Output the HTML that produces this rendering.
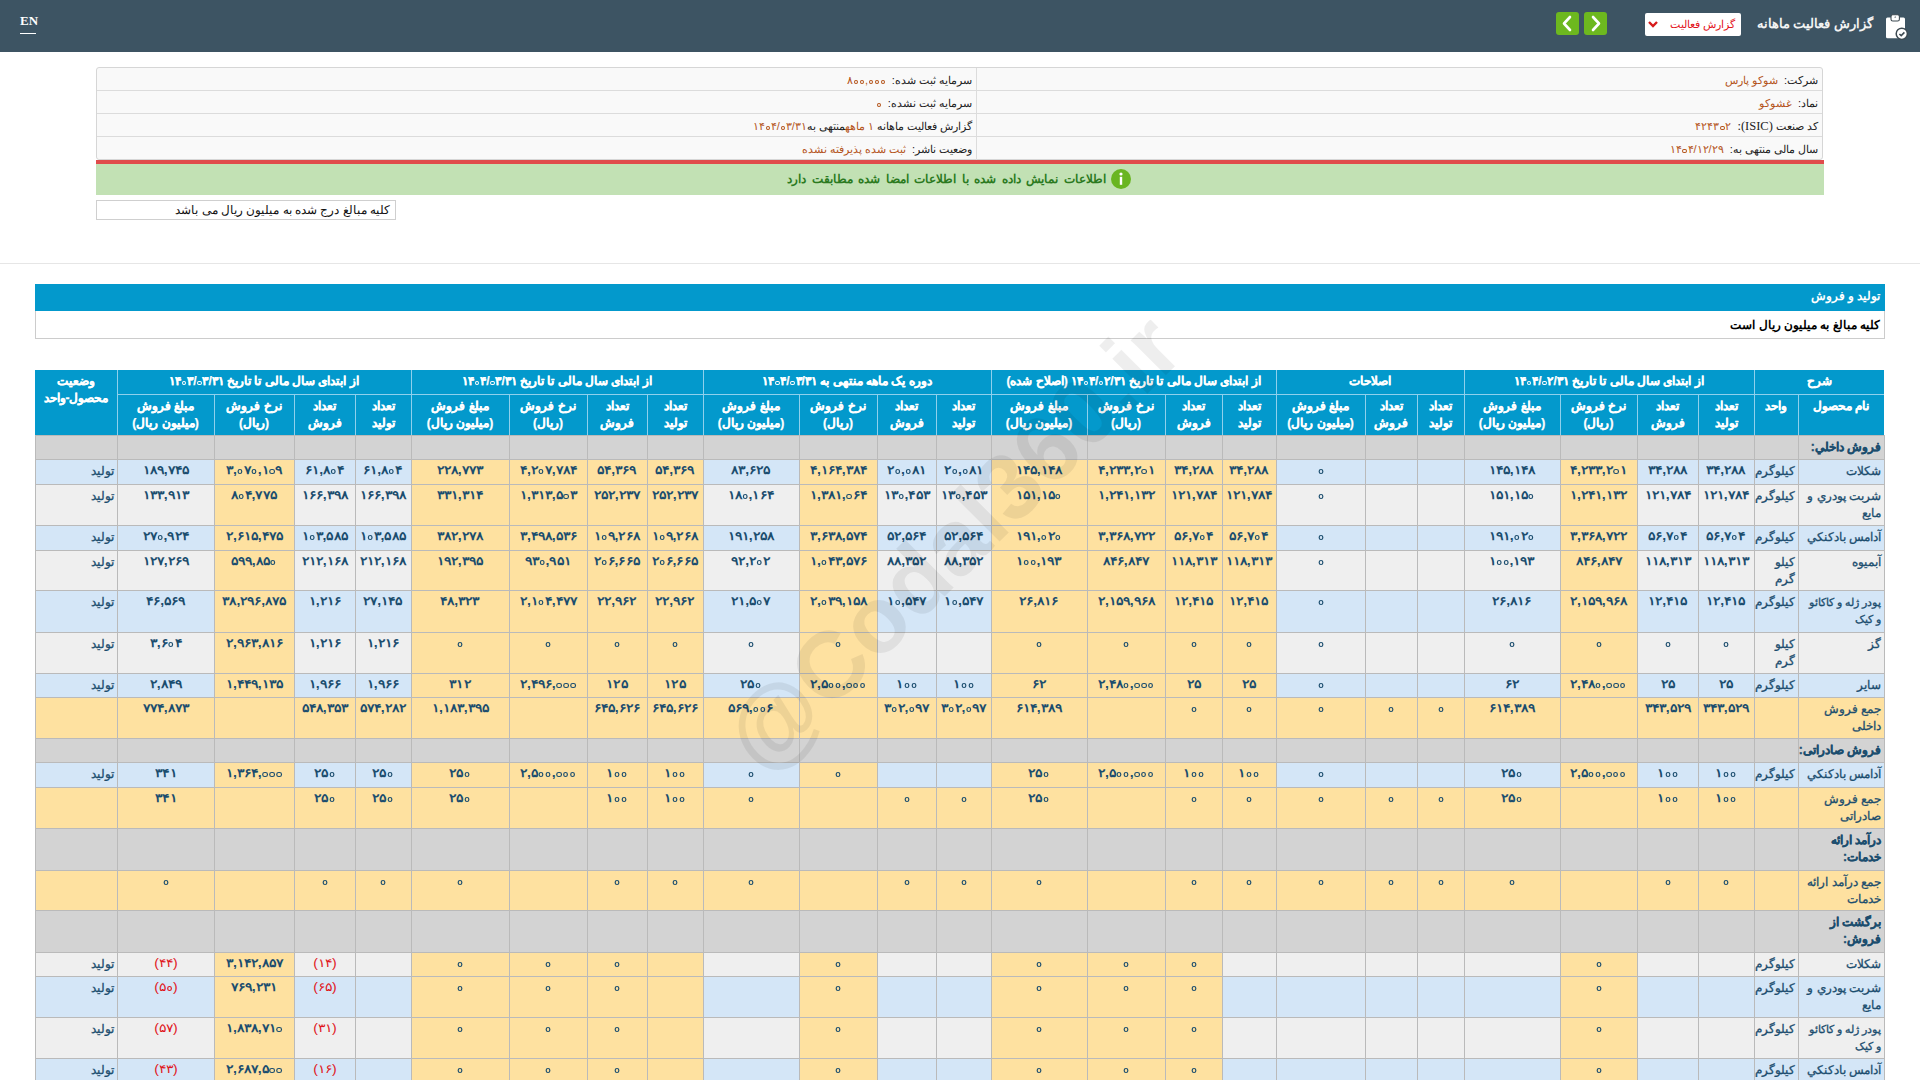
<!DOCTYPE html>
<html lang="fa" dir="rtl">
<head>
<meta charset="utf-8">
<title>گزارش فعالیت ماهانه</title>
<style>
html,body{margin:0;padding:0;}
body{width:1920px;height:1080px;overflow:hidden;position:relative;background:#fff;font-family:"Liberation Sans",sans-serif;}
.r{position:absolute;}
.t{position:absolute;font-size:12px;line-height:17px;padding-top:4px;text-align:center;color:#1b4d6e;box-sizing:border-box;padding-right:3px;padding-left:2px;white-space:normal;}
.t{white-space:nowrap;-webkit-text-stroke:0.3px currentColor;}
.n{-webkit-text-stroke:0;}
.sm{font-size:11px;}
.n{font-weight:bold;padding-top:2.5px;direction:ltr;unicode-bidi:bidi-override;}
.s{display:inline-block;transform:scaleX(1.17);}
.bo{unicode-bidi:bidi-override;direction:ltr;}
.z{display:inline-block;width:4.3px;height:4.5px;border:1.5px solid currentColor;border-radius:50%;box-sizing:border-box;margin:0 0.8px;vertical-align:0px;}
.h{position:absolute;font-size:12px;line-height:17px;text-align:center;color:#fff;font-weight:bold;-webkit-text-stroke:0.25px #fff;}
.topbar{position:absolute;left:0;top:0;width:1920px;height:52px;background:#3d5463;}
.info{position:absolute;left:96px;top:67px;width:1727px;height:93px;border:1px solid #d6d6d6;border-radius:3px;background:#f9f9f9;box-sizing:border-box;}
.il{position:absolute;height:1px;background:#dcdcdc;}
.it{position:absolute;font-size:11px;line-height:16px;color:#222;white-space:nowrap;}
.it span{color:#b4541a;}
.wm{position:absolute;left:623px;top:483px;width:660px;height:120px;line-height:120px;text-align:center;font-family:"Liberation Sans",sans-serif;font-weight:bold;font-size:94px;color:rgba(0,0,0,0.068);transform:rotate(-45deg);white-space:nowrap;}
</style>
</head>
<body>
<div class="topbar"></div>
<div style="position:absolute;left:20px;top:13px;font-family:'Liberation Serif',serif;font-size:13px;font-weight:bold;color:#fff;">EN</div>
<div class="r" style="left:20px;top:33px;width:16px;height:1px;background:#fff"></div>
<!-- header right -->
<div style="position:absolute;right:47px;top:13px;font-size:13px;line-height:22px;font-weight:bold;color:#f3f3f3;white-space:nowrap;">گزارش فعالیت ماهانه</div>
<div class="r" style="left:1645px;top:13px;width:96px;height:23px;background:#fff;border-radius:2px;"></div>
<div style="position:absolute;right:185px;top:15px;font-size:11px;line-height:19px;color:#e3131b;white-space:nowrap;">گزارش فعالیت</div>
<svg class="r" style="left:1647px;top:19px" width="12" height="10" viewBox="0 0 12 10"><path d="M2 3 L6 7 L10 3" stroke="#d71a1a" stroke-width="2.4" fill="none"/></svg>
<div class="r" style="left:1556px;top:12px;width:23px;height:23px;background:#6db81f;border-radius:3px;"></div>
<div class="r" style="left:1584px;top:12px;width:23px;height:23px;background:#6db81f;border-radius:3px;"></div>
<svg class="r" style="left:1556px;top:12px" width="23" height="23" viewBox="0 0 23 23"><path d="M14 5 L8 11.5 L14 18" stroke="#fff" stroke-width="2.6" fill="none" stroke-linecap="round" stroke-linejoin="round"/></svg>
<svg class="r" style="left:1584px;top:12px" width="23" height="23" viewBox="0 0 23 23"><path d="M9 5 L15 11.5 L9 18" stroke="#fff" stroke-width="2.6" fill="none" stroke-linecap="round" stroke-linejoin="round"/></svg>
<svg class="r" style="left:1884px;top:14px" width="26" height="26" viewBox="0 0 26 26">
<rect x="2" y="3.5" width="19" height="20.8" rx="1.5" fill="#fff"/>
<rect x="7" y="0.8" width="8.4" height="6.2" rx="1.8" fill="#fff" stroke="#3d4a52" stroke-width="1.1"/>
<path d="M10.2 3.6 L11.2 2.2 L12.2 3.6 Z" fill="#3d4a52"/>
<circle cx="17.8" cy="19.8" r="5.6" fill="#fff" stroke="#3d4a52" stroke-width="1.5"/>
<path d="M15.4 20 L17.2 21.6 L20.4 18.4" stroke="#3d4a52" stroke-width="1.6" fill="none"/>
</svg>

<!-- info table -->
<div class="info"></div>
<div class="il" style="left:97px;top:90px;width:1725px"></div>
<div class="il" style="left:97px;top:113px;width:1725px"></div>
<div class="il" style="left:97px;top:136px;width:1725px"></div>
<div class="r" style="left:976px;top:68px;width:1px;height:92px;background:#dcdcdc"></div>
<div class="it" style="right:102px;top:72px">شرکت:&nbsp; <span>شوکو پارس</span></div>
<div class="it" style="right:102px;top:95px">نماد:&nbsp; <span>غشوکو</span></div>
<div class="it" style="right:102px;top:118px">کد صنعت <i style="font-family:'Liberation Serif',serif;font-style:normal;font-size:12.5px">(ISIC):</i>&nbsp; <span><span class="bo">۴۲۴۳<i class="z"></i>۲</span></span></div>
<div class="it" style="right:102px;top:141px">سال مالی منتهی به:&nbsp; <span><span class="bo">۱۴<i class="z"></i>۴/۱۲/۲۹</span></span></div>
<div class="it" style="right:948px;top:72px">سرمایه ثبت شده:&nbsp; <span><span class="bo">۸<i class="z"></i><i class="z"></i>,<i class="z"></i><i class="z"></i><i class="z"></i></span></span></div>
<div class="it" style="right:948px;top:95px">سرمایه ثبت نشده:&nbsp; <span><span class="bo"><i class="z"></i></span></span></div>
<div class="it" style="right:948px;top:118px">گزارش فعالیت ماهانه <span>۱ ماهه</span>منتهی به<span><span class="bo">۱۴<i class="z"></i>۴/<i class="z"></i>۳/۳۱</span></span></div>
<div class="it" style="right:948px;top:141px">وضعیت ناشر:&nbsp; <span>ثبت شده پذیرفته نشده</span></div>
<div class="r" style="left:96px;top:160px;width:1728px;height:4px;background:#e04b4b"></div>
<div class="r" style="left:96px;top:164px;width:1728px;height:31px;background:#c2e1b4"></div>
<svg class="r" style="left:1110px;top:168px" width="22" height="22" viewBox="0 0 22 22"><circle cx="11" cy="11" r="10" fill="#69b521"/><circle cx="11" cy="6" r="1.6" fill="#fff"/><rect x="9.8" y="8.8" width="2.4" height="8" fill="#fff"/></svg>
<div style="position:absolute;right:814px;top:170px;font-size:12px;word-spacing:2.2px;line-height:18px;font-weight:bold;color:#2b7a1f;white-space:nowrap;">اطلاعات نمایش داده شده با اطلاعات امضا شده مطابقت دارد</div>
<div class="r" style="left:96px;top:200px;width:298px;height:18px;border:1px solid #cfcfcf;"></div>
<div style="position:absolute;right:1530px;top:202px;font-size:12px;line-height:16px;color:#111;white-space:nowrap;">کلیه مبالغ درج شده به میلیون ریال می باشد</div>
<div class="r" style="left:0;top:263px;width:1920px;height:1px;background:#e6e6e6"></div>

<!-- section -->
<div class="r" style="left:35px;top:284px;width:1850px;height:27px;background:#0399cc"></div>
<div style="position:absolute;right:40px;top:287px;font-size:11.6px;line-height:18px;font-weight:bold;color:#fff;white-space:nowrap;">تولید و فروش</div>
<div class="r" style="left:35px;top:311px;width:1848px;height:27px;border:1px solid #cccccc;border-top:none;"></div>
<div style="position:absolute;right:40px;top:316px;font-size:12px;line-height:18px;font-weight:bold;color:#000;white-space:nowrap;">کلیه مبالغ به میلیون ریال است</div>

<div class="r" style="left:35px;top:370px;width:1849px;height:65px;background:#0399cc;"></div>
<div class="r" style="left:35px;top:435px;width:1849px;height:24px;background:#d3d3d3;"></div>
<div class="t" style="left:1799px;top:435px;width:85px;text-align:right;font-weight:bold;">فروش داخلي:</div>
<div class="r" style="left:1798px;top:459px;width:86px;height:25px;background:#d4e6f7;"></div>
<div class="r" style="left:1754px;top:459px;width:44px;height:25px;background:#d4e6f7;"></div>
<div class="r" style="left:1698px;top:459px;width:56px;height:25px;background:#d4e6f7;"></div>
<div class="r" style="left:1637px;top:459px;width:61px;height:25px;background:#d4e6f7;"></div>
<div class="r" style="left:1560px;top:459px;width:77px;height:25px;background:#fee1a0;"></div>
<div class="r" style="left:1464px;top:459px;width:96px;height:25px;background:#d4e6f7;"></div>
<div class="r" style="left:1417px;top:459px;width:47px;height:25px;background:#d4e6f7;"></div>
<div class="r" style="left:1365px;top:459px;width:52px;height:25px;background:#d4e6f7;"></div>
<div class="r" style="left:1276px;top:459px;width:89px;height:25px;background:#d4e6f7;"></div>
<div class="r" style="left:1222px;top:459px;width:54px;height:25px;background:#fee1a0;"></div>
<div class="r" style="left:1165px;top:459px;width:57px;height:25px;background:#fee1a0;"></div>
<div class="r" style="left:1087px;top:459px;width:78px;height:25px;background:#fee1a0;"></div>
<div class="r" style="left:991px;top:459px;width:96px;height:25px;background:#fee1a0;"></div>
<div class="r" style="left:936px;top:459px;width:55px;height:25px;background:#d4e6f7;"></div>
<div class="r" style="left:877px;top:459px;width:59px;height:25px;background:#d4e6f7;"></div>
<div class="r" style="left:799px;top:459px;width:78px;height:25px;background:#fee1a0;"></div>
<div class="r" style="left:703px;top:459px;width:96px;height:25px;background:#d4e6f7;"></div>
<div class="r" style="left:647px;top:459px;width:56px;height:25px;background:#fee1a0;"></div>
<div class="r" style="left:587px;top:459px;width:60px;height:25px;background:#fee1a0;"></div>
<div class="r" style="left:509px;top:459px;width:78px;height:25px;background:#fee1a0;"></div>
<div class="r" style="left:411px;top:459px;width:98px;height:25px;background:#fee1a0;"></div>
<div class="r" style="left:355px;top:459px;width:56px;height:25px;background:#d4e6f7;"></div>
<div class="r" style="left:294px;top:459px;width:61px;height:25px;background:#d4e6f7;"></div>
<div class="r" style="left:214px;top:459px;width:80px;height:25px;background:#fee1a0;"></div>
<div class="r" style="left:117px;top:459px;width:97px;height:25px;background:#d4e6f7;"></div>
<div class="r" style="left:35px;top:459px;width:82px;height:25px;background:#d4e6f7;"></div>
<div class="t" style="left:1799px;top:459px;width:85px;text-align:right;">شکلات</div>
<div class="t" style="left:1755px;top:459px;width:43px;text-align:right;">کیلوگرم</div>
<div class="t n" style="left:1699px;top:459px;width:55px;"><span class="s">۳۴,۲۸۸</span></div>
<div class="t n" style="left:1638px;top:459px;width:60px;"><span class="s">۳۴,۲۸۸</span></div>
<div class="t n" style="left:1561px;top:459px;width:76px;"><span class="s">۴,۲۳۳,۲<i class="z"></i>۱</span></div>
<div class="t n" style="left:1465px;top:459px;width:95px;"><span class="s">۱۴۵,۱۴۸</span></div>
<div class="t n" style="left:1277px;top:459px;width:88px;"><span class="s"><i class="z"></i></span></div>
<div class="t n" style="left:1223px;top:459px;width:53px;"><span class="s">۳۴,۲۸۸</span></div>
<div class="t n" style="left:1166px;top:459px;width:56px;"><span class="s">۳۴,۲۸۸</span></div>
<div class="t n" style="left:1088px;top:459px;width:77px;"><span class="s">۴,۲۳۳,۲<i class="z"></i>۱</span></div>
<div class="t n" style="left:992px;top:459px;width:95px;"><span class="s">۱۴۵,۱۴۸</span></div>
<div class="t n" style="left:937px;top:459px;width:54px;"><span class="s">۲<i class="z"></i>,<i class="z"></i>۸۱</span></div>
<div class="t n" style="left:878px;top:459px;width:58px;"><span class="s">۲<i class="z"></i>,<i class="z"></i>۸۱</span></div>
<div class="t n" style="left:800px;top:459px;width:77px;"><span class="s">۴,۱۶۴,۳۸۴</span></div>
<div class="t n" style="left:704px;top:459px;width:95px;"><span class="s">۸۳,۶۲۵</span></div>
<div class="t n" style="left:648px;top:459px;width:55px;"><span class="s">۵۴,۳۶۹</span></div>
<div class="t n" style="left:588px;top:459px;width:59px;"><span class="s">۵۴,۳۶۹</span></div>
<div class="t n" style="left:510px;top:459px;width:77px;"><span class="s">۴,۲<i class="z"></i>۷,۷۸۴</span></div>
<div class="t n" style="left:412px;top:459px;width:97px;"><span class="s">۲۲۸,۷۷۳</span></div>
<div class="t n" style="left:356px;top:459px;width:55px;"><span class="s">۶۱,۸<i class="z"></i>۴</span></div>
<div class="t n" style="left:295px;top:459px;width:60px;"><span class="s">۶۱,۸<i class="z"></i>۴</span></div>
<div class="t n" style="left:215px;top:459px;width:79px;"><span class="s">۳,<i class="z"></i>۷<i class="z"></i>,۱<i class="z"></i>۹</span></div>
<div class="t n" style="left:118px;top:459px;width:96px;"><span class="s">۱۸۹,۷۴۵</span></div>
<div class="t" style="left:36px;top:459px;width:81px;text-align:right;">تولید</div>
<div class="r" style="left:1798px;top:484px;width:86px;height:41px;background:#efefef;"></div>
<div class="r" style="left:1754px;top:484px;width:44px;height:41px;background:#efefef;"></div>
<div class="r" style="left:1698px;top:484px;width:56px;height:41px;background:#efefef;"></div>
<div class="r" style="left:1637px;top:484px;width:61px;height:41px;background:#efefef;"></div>
<div class="r" style="left:1560px;top:484px;width:77px;height:41px;background:#fee1a0;"></div>
<div class="r" style="left:1464px;top:484px;width:96px;height:41px;background:#efefef;"></div>
<div class="r" style="left:1417px;top:484px;width:47px;height:41px;background:#efefef;"></div>
<div class="r" style="left:1365px;top:484px;width:52px;height:41px;background:#efefef;"></div>
<div class="r" style="left:1276px;top:484px;width:89px;height:41px;background:#efefef;"></div>
<div class="r" style="left:1222px;top:484px;width:54px;height:41px;background:#fee1a0;"></div>
<div class="r" style="left:1165px;top:484px;width:57px;height:41px;background:#fee1a0;"></div>
<div class="r" style="left:1087px;top:484px;width:78px;height:41px;background:#fee1a0;"></div>
<div class="r" style="left:991px;top:484px;width:96px;height:41px;background:#fee1a0;"></div>
<div class="r" style="left:936px;top:484px;width:55px;height:41px;background:#efefef;"></div>
<div class="r" style="left:877px;top:484px;width:59px;height:41px;background:#efefef;"></div>
<div class="r" style="left:799px;top:484px;width:78px;height:41px;background:#fee1a0;"></div>
<div class="r" style="left:703px;top:484px;width:96px;height:41px;background:#efefef;"></div>
<div class="r" style="left:647px;top:484px;width:56px;height:41px;background:#fee1a0;"></div>
<div class="r" style="left:587px;top:484px;width:60px;height:41px;background:#fee1a0;"></div>
<div class="r" style="left:509px;top:484px;width:78px;height:41px;background:#fee1a0;"></div>
<div class="r" style="left:411px;top:484px;width:98px;height:41px;background:#fee1a0;"></div>
<div class="r" style="left:355px;top:484px;width:56px;height:41px;background:#efefef;"></div>
<div class="r" style="left:294px;top:484px;width:61px;height:41px;background:#efefef;"></div>
<div class="r" style="left:214px;top:484px;width:80px;height:41px;background:#fee1a0;"></div>
<div class="r" style="left:117px;top:484px;width:97px;height:41px;background:#efefef;"></div>
<div class="r" style="left:35px;top:484px;width:82px;height:41px;background:#efefef;"></div>
<div class="t" style="left:1799px;top:484px;width:85px;text-align:right;">شربت پودري و<br>مايع</div>
<div class="t" style="left:1755px;top:484px;width:43px;text-align:right;">کیلوگرم</div>
<div class="t n" style="left:1699px;top:484px;width:55px;"><span class="s">۱۲۱,۷۸۴</span></div>
<div class="t n" style="left:1638px;top:484px;width:60px;"><span class="s">۱۲۱,۷۸۴</span></div>
<div class="t n" style="left:1561px;top:484px;width:76px;"><span class="s">۱,۲۴۱,۱۳۲</span></div>
<div class="t n" style="left:1465px;top:484px;width:95px;"><span class="s">۱۵۱,۱۵<i class="z"></i></span></div>
<div class="t n" style="left:1277px;top:484px;width:88px;"><span class="s"><i class="z"></i></span></div>
<div class="t n" style="left:1223px;top:484px;width:53px;"><span class="s">۱۲۱,۷۸۴</span></div>
<div class="t n" style="left:1166px;top:484px;width:56px;"><span class="s">۱۲۱,۷۸۴</span></div>
<div class="t n" style="left:1088px;top:484px;width:77px;"><span class="s">۱,۲۴۱,۱۳۲</span></div>
<div class="t n" style="left:992px;top:484px;width:95px;"><span class="s">۱۵۱,۱۵<i class="z"></i></span></div>
<div class="t n" style="left:937px;top:484px;width:54px;"><span class="s">۱۳<i class="z"></i>,۴۵۳</span></div>
<div class="t n" style="left:878px;top:484px;width:58px;"><span class="s">۱۳<i class="z"></i>,۴۵۳</span></div>
<div class="t n" style="left:800px;top:484px;width:77px;"><span class="s">۱,۳۸۱,<i class="z"></i>۶۴</span></div>
<div class="t n" style="left:704px;top:484px;width:95px;"><span class="s">۱۸<i class="z"></i>,۱۶۴</span></div>
<div class="t n" style="left:648px;top:484px;width:55px;"><span class="s">۲۵۲,۲۳۷</span></div>
<div class="t n" style="left:588px;top:484px;width:59px;"><span class="s">۲۵۲,۲۳۷</span></div>
<div class="t n" style="left:510px;top:484px;width:77px;"><span class="s">۱,۳۱۳,۵<i class="z"></i>۳</span></div>
<div class="t n" style="left:412px;top:484px;width:97px;"><span class="s">۳۳۱,۳۱۴</span></div>
<div class="t n" style="left:356px;top:484px;width:55px;"><span class="s">۱۶۶,۳۹۸</span></div>
<div class="t n" style="left:295px;top:484px;width:60px;"><span class="s">۱۶۶,۳۹۸</span></div>
<div class="t n" style="left:215px;top:484px;width:79px;"><span class="s">۸<i class="z"></i>۴,۷۷۵</span></div>
<div class="t n" style="left:118px;top:484px;width:96px;"><span class="s">۱۳۳,۹۱۳</span></div>
<div class="t" style="left:36px;top:484px;width:81px;text-align:right;">تولید</div>
<div class="r" style="left:1798px;top:525px;width:86px;height:25px;background:#d4e6f7;"></div>
<div class="r" style="left:1754px;top:525px;width:44px;height:25px;background:#d4e6f7;"></div>
<div class="r" style="left:1698px;top:525px;width:56px;height:25px;background:#d4e6f7;"></div>
<div class="r" style="left:1637px;top:525px;width:61px;height:25px;background:#d4e6f7;"></div>
<div class="r" style="left:1560px;top:525px;width:77px;height:25px;background:#fee1a0;"></div>
<div class="r" style="left:1464px;top:525px;width:96px;height:25px;background:#d4e6f7;"></div>
<div class="r" style="left:1417px;top:525px;width:47px;height:25px;background:#d4e6f7;"></div>
<div class="r" style="left:1365px;top:525px;width:52px;height:25px;background:#d4e6f7;"></div>
<div class="r" style="left:1276px;top:525px;width:89px;height:25px;background:#d4e6f7;"></div>
<div class="r" style="left:1222px;top:525px;width:54px;height:25px;background:#fee1a0;"></div>
<div class="r" style="left:1165px;top:525px;width:57px;height:25px;background:#fee1a0;"></div>
<div class="r" style="left:1087px;top:525px;width:78px;height:25px;background:#fee1a0;"></div>
<div class="r" style="left:991px;top:525px;width:96px;height:25px;background:#fee1a0;"></div>
<div class="r" style="left:936px;top:525px;width:55px;height:25px;background:#d4e6f7;"></div>
<div class="r" style="left:877px;top:525px;width:59px;height:25px;background:#d4e6f7;"></div>
<div class="r" style="left:799px;top:525px;width:78px;height:25px;background:#fee1a0;"></div>
<div class="r" style="left:703px;top:525px;width:96px;height:25px;background:#d4e6f7;"></div>
<div class="r" style="left:647px;top:525px;width:56px;height:25px;background:#fee1a0;"></div>
<div class="r" style="left:587px;top:525px;width:60px;height:25px;background:#fee1a0;"></div>
<div class="r" style="left:509px;top:525px;width:78px;height:25px;background:#fee1a0;"></div>
<div class="r" style="left:411px;top:525px;width:98px;height:25px;background:#fee1a0;"></div>
<div class="r" style="left:355px;top:525px;width:56px;height:25px;background:#d4e6f7;"></div>
<div class="r" style="left:294px;top:525px;width:61px;height:25px;background:#d4e6f7;"></div>
<div class="r" style="left:214px;top:525px;width:80px;height:25px;background:#fee1a0;"></div>
<div class="r" style="left:117px;top:525px;width:97px;height:25px;background:#d4e6f7;"></div>
<div class="r" style="left:35px;top:525px;width:82px;height:25px;background:#d4e6f7;"></div>
<div class="t" style="left:1799px;top:525px;width:85px;text-align:right;">آدامس بادکنکي</div>
<div class="t" style="left:1755px;top:525px;width:43px;text-align:right;">کیلوگرم</div>
<div class="t n" style="left:1699px;top:525px;width:55px;"><span class="s">۵۶,۷<i class="z"></i>۴</span></div>
<div class="t n" style="left:1638px;top:525px;width:60px;"><span class="s">۵۶,۷<i class="z"></i>۴</span></div>
<div class="t n" style="left:1561px;top:525px;width:76px;"><span class="s">۳,۳۶۸,۷۲۲</span></div>
<div class="t n" style="left:1465px;top:525px;width:95px;"><span class="s">۱۹۱,<i class="z"></i>۲<i class="z"></i></span></div>
<div class="t n" style="left:1277px;top:525px;width:88px;"><span class="s"><i class="z"></i></span></div>
<div class="t n" style="left:1223px;top:525px;width:53px;"><span class="s">۵۶,۷<i class="z"></i>۴</span></div>
<div class="t n" style="left:1166px;top:525px;width:56px;"><span class="s">۵۶,۷<i class="z"></i>۴</span></div>
<div class="t n" style="left:1088px;top:525px;width:77px;"><span class="s">۳,۳۶۸,۷۲۲</span></div>
<div class="t n" style="left:992px;top:525px;width:95px;"><span class="s">۱۹۱,<i class="z"></i>۲<i class="z"></i></span></div>
<div class="t n" style="left:937px;top:525px;width:54px;"><span class="s">۵۲,۵۶۴</span></div>
<div class="t n" style="left:878px;top:525px;width:58px;"><span class="s">۵۲,۵۶۴</span></div>
<div class="t n" style="left:800px;top:525px;width:77px;"><span class="s">۳,۶۳۸,۵۷۴</span></div>
<div class="t n" style="left:704px;top:525px;width:95px;"><span class="s">۱۹۱,۲۵۸</span></div>
<div class="t n" style="left:648px;top:525px;width:55px;"><span class="s">۱<i class="z"></i>۹,۲۶۸</span></div>
<div class="t n" style="left:588px;top:525px;width:59px;"><span class="s">۱<i class="z"></i>۹,۲۶۸</span></div>
<div class="t n" style="left:510px;top:525px;width:77px;"><span class="s">۳,۴۹۸,۵۳۶</span></div>
<div class="t n" style="left:412px;top:525px;width:97px;"><span class="s">۳۸۲,۲۷۸</span></div>
<div class="t n" style="left:356px;top:525px;width:55px;"><span class="s">۱<i class="z"></i>۳,۵۸۵</span></div>
<div class="t n" style="left:295px;top:525px;width:60px;"><span class="s">۱<i class="z"></i>۳,۵۸۵</span></div>
<div class="t n" style="left:215px;top:525px;width:79px;"><span class="s">۲,۶۱۵,۴۷۵</span></div>
<div class="t n" style="left:118px;top:525px;width:96px;"><span class="s">۲۷<i class="z"></i>,۹۲۴</span></div>
<div class="t" style="left:36px;top:525px;width:81px;text-align:right;">تولید</div>
<div class="r" style="left:1798px;top:550px;width:86px;height:40px;background:#efefef;"></div>
<div class="r" style="left:1754px;top:550px;width:44px;height:40px;background:#efefef;"></div>
<div class="r" style="left:1698px;top:550px;width:56px;height:40px;background:#efefef;"></div>
<div class="r" style="left:1637px;top:550px;width:61px;height:40px;background:#efefef;"></div>
<div class="r" style="left:1560px;top:550px;width:77px;height:40px;background:#fee1a0;"></div>
<div class="r" style="left:1464px;top:550px;width:96px;height:40px;background:#efefef;"></div>
<div class="r" style="left:1417px;top:550px;width:47px;height:40px;background:#efefef;"></div>
<div class="r" style="left:1365px;top:550px;width:52px;height:40px;background:#efefef;"></div>
<div class="r" style="left:1276px;top:550px;width:89px;height:40px;background:#efefef;"></div>
<div class="r" style="left:1222px;top:550px;width:54px;height:40px;background:#fee1a0;"></div>
<div class="r" style="left:1165px;top:550px;width:57px;height:40px;background:#fee1a0;"></div>
<div class="r" style="left:1087px;top:550px;width:78px;height:40px;background:#fee1a0;"></div>
<div class="r" style="left:991px;top:550px;width:96px;height:40px;background:#fee1a0;"></div>
<div class="r" style="left:936px;top:550px;width:55px;height:40px;background:#efefef;"></div>
<div class="r" style="left:877px;top:550px;width:59px;height:40px;background:#efefef;"></div>
<div class="r" style="left:799px;top:550px;width:78px;height:40px;background:#fee1a0;"></div>
<div class="r" style="left:703px;top:550px;width:96px;height:40px;background:#efefef;"></div>
<div class="r" style="left:647px;top:550px;width:56px;height:40px;background:#fee1a0;"></div>
<div class="r" style="left:587px;top:550px;width:60px;height:40px;background:#fee1a0;"></div>
<div class="r" style="left:509px;top:550px;width:78px;height:40px;background:#fee1a0;"></div>
<div class="r" style="left:411px;top:550px;width:98px;height:40px;background:#fee1a0;"></div>
<div class="r" style="left:355px;top:550px;width:56px;height:40px;background:#efefef;"></div>
<div class="r" style="left:294px;top:550px;width:61px;height:40px;background:#efefef;"></div>
<div class="r" style="left:214px;top:550px;width:80px;height:40px;background:#fee1a0;"></div>
<div class="r" style="left:117px;top:550px;width:97px;height:40px;background:#efefef;"></div>
<div class="r" style="left:35px;top:550px;width:82px;height:40px;background:#efefef;"></div>
<div class="t" style="left:1799px;top:550px;width:85px;text-align:right;">آبمیوه</div>
<div class="t" style="left:1755px;top:550px;width:43px;text-align:right;">کیلو<br>گرم</div>
<div class="t n" style="left:1699px;top:550px;width:55px;"><span class="s">۱۱۸,۳۱۳</span></div>
<div class="t n" style="left:1638px;top:550px;width:60px;"><span class="s">۱۱۸,۳۱۳</span></div>
<div class="t n" style="left:1561px;top:550px;width:76px;"><span class="s">۸۴۶,۸۴۷</span></div>
<div class="t n" style="left:1465px;top:550px;width:95px;"><span class="s">۱<i class="z"></i><i class="z"></i>,۱۹۳</span></div>
<div class="t n" style="left:1277px;top:550px;width:88px;"><span class="s"><i class="z"></i></span></div>
<div class="t n" style="left:1223px;top:550px;width:53px;"><span class="s">۱۱۸,۳۱۳</span></div>
<div class="t n" style="left:1166px;top:550px;width:56px;"><span class="s">۱۱۸,۳۱۳</span></div>
<div class="t n" style="left:1088px;top:550px;width:77px;"><span class="s">۸۴۶,۸۴۷</span></div>
<div class="t n" style="left:992px;top:550px;width:95px;"><span class="s">۱<i class="z"></i><i class="z"></i>,۱۹۳</span></div>
<div class="t n" style="left:937px;top:550px;width:54px;"><span class="s">۸۸,۳۵۲</span></div>
<div class="t n" style="left:878px;top:550px;width:58px;"><span class="s">۸۸,۳۵۲</span></div>
<div class="t n" style="left:800px;top:550px;width:77px;"><span class="s">۱,<i class="z"></i>۴۳,۵۷۶</span></div>
<div class="t n" style="left:704px;top:550px;width:95px;"><span class="s">۹۲,۲<i class="z"></i>۲</span></div>
<div class="t n" style="left:648px;top:550px;width:55px;"><span class="s">۲<i class="z"></i>۶,۶۶۵</span></div>
<div class="t n" style="left:588px;top:550px;width:59px;"><span class="s">۲<i class="z"></i>۶,۶۶۵</span></div>
<div class="t n" style="left:510px;top:550px;width:77px;"><span class="s">۹۳<i class="z"></i>,۹۵۱</span></div>
<div class="t n" style="left:412px;top:550px;width:97px;"><span class="s">۱۹۲,۳۹۵</span></div>
<div class="t n" style="left:356px;top:550px;width:55px;"><span class="s">۲۱۲,۱۶۸</span></div>
<div class="t n" style="left:295px;top:550px;width:60px;"><span class="s">۲۱۲,۱۶۸</span></div>
<div class="t n" style="left:215px;top:550px;width:79px;"><span class="s">۵۹۹,۸۵<i class="z"></i></span></div>
<div class="t n" style="left:118px;top:550px;width:96px;"><span class="s">۱۲۷,۲۶۹</span></div>
<div class="t" style="left:36px;top:550px;width:81px;text-align:right;">تولید</div>
<div class="r" style="left:1798px;top:590px;width:86px;height:42px;background:#d4e6f7;"></div>
<div class="r" style="left:1754px;top:590px;width:44px;height:42px;background:#d4e6f7;"></div>
<div class="r" style="left:1698px;top:590px;width:56px;height:42px;background:#d4e6f7;"></div>
<div class="r" style="left:1637px;top:590px;width:61px;height:42px;background:#d4e6f7;"></div>
<div class="r" style="left:1560px;top:590px;width:77px;height:42px;background:#fee1a0;"></div>
<div class="r" style="left:1464px;top:590px;width:96px;height:42px;background:#d4e6f7;"></div>
<div class="r" style="left:1417px;top:590px;width:47px;height:42px;background:#d4e6f7;"></div>
<div class="r" style="left:1365px;top:590px;width:52px;height:42px;background:#d4e6f7;"></div>
<div class="r" style="left:1276px;top:590px;width:89px;height:42px;background:#d4e6f7;"></div>
<div class="r" style="left:1222px;top:590px;width:54px;height:42px;background:#fee1a0;"></div>
<div class="r" style="left:1165px;top:590px;width:57px;height:42px;background:#fee1a0;"></div>
<div class="r" style="left:1087px;top:590px;width:78px;height:42px;background:#fee1a0;"></div>
<div class="r" style="left:991px;top:590px;width:96px;height:42px;background:#fee1a0;"></div>
<div class="r" style="left:936px;top:590px;width:55px;height:42px;background:#d4e6f7;"></div>
<div class="r" style="left:877px;top:590px;width:59px;height:42px;background:#d4e6f7;"></div>
<div class="r" style="left:799px;top:590px;width:78px;height:42px;background:#fee1a0;"></div>
<div class="r" style="left:703px;top:590px;width:96px;height:42px;background:#d4e6f7;"></div>
<div class="r" style="left:647px;top:590px;width:56px;height:42px;background:#fee1a0;"></div>
<div class="r" style="left:587px;top:590px;width:60px;height:42px;background:#fee1a0;"></div>
<div class="r" style="left:509px;top:590px;width:78px;height:42px;background:#fee1a0;"></div>
<div class="r" style="left:411px;top:590px;width:98px;height:42px;background:#fee1a0;"></div>
<div class="r" style="left:355px;top:590px;width:56px;height:42px;background:#d4e6f7;"></div>
<div class="r" style="left:294px;top:590px;width:61px;height:42px;background:#d4e6f7;"></div>
<div class="r" style="left:214px;top:590px;width:80px;height:42px;background:#fee1a0;"></div>
<div class="r" style="left:117px;top:590px;width:97px;height:42px;background:#d4e6f7;"></div>
<div class="r" style="left:35px;top:590px;width:82px;height:42px;background:#d4e6f7;"></div>
<div class="t sm" style="left:1799px;top:590px;width:85px;text-align:right;">پودر ژله و کاکائو<br>و کیک</div>
<div class="t" style="left:1755px;top:590px;width:43px;text-align:right;">کیلوگرم</div>
<div class="t n" style="left:1699px;top:590px;width:55px;"><span class="s">۱۲,۴۱۵</span></div>
<div class="t n" style="left:1638px;top:590px;width:60px;"><span class="s">۱۲,۴۱۵</span></div>
<div class="t n" style="left:1561px;top:590px;width:76px;"><span class="s">۲,۱۵۹,۹۶۸</span></div>
<div class="t n" style="left:1465px;top:590px;width:95px;"><span class="s">۲۶,۸۱۶</span></div>
<div class="t n" style="left:1277px;top:590px;width:88px;"><span class="s"><i class="z"></i></span></div>
<div class="t n" style="left:1223px;top:590px;width:53px;"><span class="s">۱۲,۴۱۵</span></div>
<div class="t n" style="left:1166px;top:590px;width:56px;"><span class="s">۱۲,۴۱۵</span></div>
<div class="t n" style="left:1088px;top:590px;width:77px;"><span class="s">۲,۱۵۹,۹۶۸</span></div>
<div class="t n" style="left:992px;top:590px;width:95px;"><span class="s">۲۶,۸۱۶</span></div>
<div class="t n" style="left:937px;top:590px;width:54px;"><span class="s">۱<i class="z"></i>,۵۴۷</span></div>
<div class="t n" style="left:878px;top:590px;width:58px;"><span class="s">۱<i class="z"></i>,۵۴۷</span></div>
<div class="t n" style="left:800px;top:590px;width:77px;"><span class="s">۲,<i class="z"></i>۳۹,۱۵۸</span></div>
<div class="t n" style="left:704px;top:590px;width:95px;"><span class="s">۲۱,۵<i class="z"></i>۷</span></div>
<div class="t n" style="left:648px;top:590px;width:55px;"><span class="s">۲۲,۹۶۲</span></div>
<div class="t n" style="left:588px;top:590px;width:59px;"><span class="s">۲۲,۹۶۲</span></div>
<div class="t n" style="left:510px;top:590px;width:77px;"><span class="s">۲,۱<i class="z"></i>۴,۴۷۷</span></div>
<div class="t n" style="left:412px;top:590px;width:97px;"><span class="s">۴۸,۳۲۳</span></div>
<div class="t n" style="left:356px;top:590px;width:55px;"><span class="s">۲۷,۱۴۵</span></div>
<div class="t n" style="left:295px;top:590px;width:60px;"><span class="s">۱,۲۱۶</span></div>
<div class="t n" style="left:215px;top:590px;width:79px;"><span class="s">۳۸,۲۹۶,۸۷۵</span></div>
<div class="t n" style="left:118px;top:590px;width:96px;"><span class="s">۴۶,۵۶۹</span></div>
<div class="t" style="left:36px;top:590px;width:81px;text-align:right;">تولید</div>
<div class="r" style="left:1798px;top:632px;width:86px;height:41px;background:#efefef;"></div>
<div class="r" style="left:1754px;top:632px;width:44px;height:41px;background:#efefef;"></div>
<div class="r" style="left:1698px;top:632px;width:56px;height:41px;background:#efefef;"></div>
<div class="r" style="left:1637px;top:632px;width:61px;height:41px;background:#efefef;"></div>
<div class="r" style="left:1560px;top:632px;width:77px;height:41px;background:#fee1a0;"></div>
<div class="r" style="left:1464px;top:632px;width:96px;height:41px;background:#efefef;"></div>
<div class="r" style="left:1417px;top:632px;width:47px;height:41px;background:#efefef;"></div>
<div class="r" style="left:1365px;top:632px;width:52px;height:41px;background:#efefef;"></div>
<div class="r" style="left:1276px;top:632px;width:89px;height:41px;background:#efefef;"></div>
<div class="r" style="left:1222px;top:632px;width:54px;height:41px;background:#fee1a0;"></div>
<div class="r" style="left:1165px;top:632px;width:57px;height:41px;background:#fee1a0;"></div>
<div class="r" style="left:1087px;top:632px;width:78px;height:41px;background:#fee1a0;"></div>
<div class="r" style="left:991px;top:632px;width:96px;height:41px;background:#fee1a0;"></div>
<div class="r" style="left:936px;top:632px;width:55px;height:41px;background:#efefef;"></div>
<div class="r" style="left:877px;top:632px;width:59px;height:41px;background:#efefef;"></div>
<div class="r" style="left:799px;top:632px;width:78px;height:41px;background:#fee1a0;"></div>
<div class="r" style="left:703px;top:632px;width:96px;height:41px;background:#efefef;"></div>
<div class="r" style="left:647px;top:632px;width:56px;height:41px;background:#fee1a0;"></div>
<div class="r" style="left:587px;top:632px;width:60px;height:41px;background:#fee1a0;"></div>
<div class="r" style="left:509px;top:632px;width:78px;height:41px;background:#fee1a0;"></div>
<div class="r" style="left:411px;top:632px;width:98px;height:41px;background:#fee1a0;"></div>
<div class="r" style="left:355px;top:632px;width:56px;height:41px;background:#efefef;"></div>
<div class="r" style="left:294px;top:632px;width:61px;height:41px;background:#efefef;"></div>
<div class="r" style="left:214px;top:632px;width:80px;height:41px;background:#fee1a0;"></div>
<div class="r" style="left:117px;top:632px;width:97px;height:41px;background:#efefef;"></div>
<div class="r" style="left:35px;top:632px;width:82px;height:41px;background:#efefef;"></div>
<div class="t" style="left:1799px;top:632px;width:85px;text-align:right;">گز</div>
<div class="t" style="left:1755px;top:632px;width:43px;text-align:right;">کیلو<br>گرم</div>
<div class="t n" style="left:1699px;top:632px;width:55px;"><span class="s"><i class="z"></i></span></div>
<div class="t n" style="left:1638px;top:632px;width:60px;"><span class="s"><i class="z"></i></span></div>
<div class="t n" style="left:1561px;top:632px;width:76px;"><span class="s"><i class="z"></i></span></div>
<div class="t n" style="left:1465px;top:632px;width:95px;"><span class="s"><i class="z"></i></span></div>
<div class="t n" style="left:1277px;top:632px;width:88px;"><span class="s"><i class="z"></i></span></div>
<div class="t n" style="left:1223px;top:632px;width:53px;"><span class="s"><i class="z"></i></span></div>
<div class="t n" style="left:1166px;top:632px;width:56px;"><span class="s"><i class="z"></i></span></div>
<div class="t n" style="left:1088px;top:632px;width:77px;"><span class="s"><i class="z"></i></span></div>
<div class="t n" style="left:992px;top:632px;width:95px;"><span class="s"><i class="z"></i></span></div>
<div class="t n" style="left:800px;top:632px;width:77px;"><span class="s"><i class="z"></i></span></div>
<div class="t n" style="left:704px;top:632px;width:95px;"><span class="s"><i class="z"></i></span></div>
<div class="t n" style="left:648px;top:632px;width:55px;"><span class="s"><i class="z"></i></span></div>
<div class="t n" style="left:588px;top:632px;width:59px;"><span class="s"><i class="z"></i></span></div>
<div class="t n" style="left:510px;top:632px;width:77px;"><span class="s"><i class="z"></i></span></div>
<div class="t n" style="left:412px;top:632px;width:97px;"><span class="s"><i class="z"></i></span></div>
<div class="t n" style="left:356px;top:632px;width:55px;"><span class="s">۱,۲۱۶</span></div>
<div class="t n" style="left:295px;top:632px;width:60px;"><span class="s">۱,۲۱۶</span></div>
<div class="t n" style="left:215px;top:632px;width:79px;"><span class="s">۲,۹۶۳,۸۱۶</span></div>
<div class="t n" style="left:118px;top:632px;width:96px;"><span class="s">۳,۶<i class="z"></i>۴</span></div>
<div class="t" style="left:36px;top:632px;width:81px;text-align:right;">تولید</div>
<div class="r" style="left:1798px;top:673px;width:86px;height:24px;background:#d4e6f7;"></div>
<div class="r" style="left:1754px;top:673px;width:44px;height:24px;background:#d4e6f7;"></div>
<div class="r" style="left:1698px;top:673px;width:56px;height:24px;background:#d4e6f7;"></div>
<div class="r" style="left:1637px;top:673px;width:61px;height:24px;background:#d4e6f7;"></div>
<div class="r" style="left:1560px;top:673px;width:77px;height:24px;background:#fee1a0;"></div>
<div class="r" style="left:1464px;top:673px;width:96px;height:24px;background:#d4e6f7;"></div>
<div class="r" style="left:1417px;top:673px;width:47px;height:24px;background:#d4e6f7;"></div>
<div class="r" style="left:1365px;top:673px;width:52px;height:24px;background:#d4e6f7;"></div>
<div class="r" style="left:1276px;top:673px;width:89px;height:24px;background:#d4e6f7;"></div>
<div class="r" style="left:1222px;top:673px;width:54px;height:24px;background:#fee1a0;"></div>
<div class="r" style="left:1165px;top:673px;width:57px;height:24px;background:#fee1a0;"></div>
<div class="r" style="left:1087px;top:673px;width:78px;height:24px;background:#fee1a0;"></div>
<div class="r" style="left:991px;top:673px;width:96px;height:24px;background:#fee1a0;"></div>
<div class="r" style="left:936px;top:673px;width:55px;height:24px;background:#d4e6f7;"></div>
<div class="r" style="left:877px;top:673px;width:59px;height:24px;background:#d4e6f7;"></div>
<div class="r" style="left:799px;top:673px;width:78px;height:24px;background:#fee1a0;"></div>
<div class="r" style="left:703px;top:673px;width:96px;height:24px;background:#d4e6f7;"></div>
<div class="r" style="left:647px;top:673px;width:56px;height:24px;background:#fee1a0;"></div>
<div class="r" style="left:587px;top:673px;width:60px;height:24px;background:#fee1a0;"></div>
<div class="r" style="left:509px;top:673px;width:78px;height:24px;background:#fee1a0;"></div>
<div class="r" style="left:411px;top:673px;width:98px;height:24px;background:#fee1a0;"></div>
<div class="r" style="left:355px;top:673px;width:56px;height:24px;background:#d4e6f7;"></div>
<div class="r" style="left:294px;top:673px;width:61px;height:24px;background:#d4e6f7;"></div>
<div class="r" style="left:214px;top:673px;width:80px;height:24px;background:#fee1a0;"></div>
<div class="r" style="left:117px;top:673px;width:97px;height:24px;background:#d4e6f7;"></div>
<div class="r" style="left:35px;top:673px;width:82px;height:24px;background:#d4e6f7;"></div>
<div class="t" style="left:1799px;top:673px;width:85px;text-align:right;">سایر</div>
<div class="t" style="left:1755px;top:673px;width:43px;text-align:right;">کیلوگرم</div>
<div class="t n" style="left:1699px;top:673px;width:55px;"><span class="s">۲۵</span></div>
<div class="t n" style="left:1638px;top:673px;width:60px;"><span class="s">۲۵</span></div>
<div class="t n" style="left:1561px;top:673px;width:76px;"><span class="s">۲,۴۸<i class="z"></i>,<i class="z"></i><i class="z"></i><i class="z"></i></span></div>
<div class="t n" style="left:1465px;top:673px;width:95px;"><span class="s">۶۲</span></div>
<div class="t n" style="left:1277px;top:673px;width:88px;"><span class="s"><i class="z"></i></span></div>
<div class="t n" style="left:1223px;top:673px;width:53px;"><span class="s">۲۵</span></div>
<div class="t n" style="left:1166px;top:673px;width:56px;"><span class="s">۲۵</span></div>
<div class="t n" style="left:1088px;top:673px;width:77px;"><span class="s">۲,۴۸<i class="z"></i>,<i class="z"></i><i class="z"></i><i class="z"></i></span></div>
<div class="t n" style="left:992px;top:673px;width:95px;"><span class="s">۶۲</span></div>
<div class="t n" style="left:937px;top:673px;width:54px;"><span class="s">۱<i class="z"></i><i class="z"></i></span></div>
<div class="t n" style="left:878px;top:673px;width:58px;"><span class="s">۱<i class="z"></i><i class="z"></i></span></div>
<div class="t n" style="left:800px;top:673px;width:77px;"><span class="s">۲,۵<i class="z"></i><i class="z"></i>,<i class="z"></i><i class="z"></i><i class="z"></i></span></div>
<div class="t n" style="left:704px;top:673px;width:95px;"><span class="s">۲۵<i class="z"></i></span></div>
<div class="t n" style="left:648px;top:673px;width:55px;"><span class="s">۱۲۵</span></div>
<div class="t n" style="left:588px;top:673px;width:59px;"><span class="s">۱۲۵</span></div>
<div class="t n" style="left:510px;top:673px;width:77px;"><span class="s">۲,۴۹۶,<i class="z"></i><i class="z"></i><i class="z"></i></span></div>
<div class="t n" style="left:412px;top:673px;width:97px;"><span class="s">۳۱۲</span></div>
<div class="t n" style="left:356px;top:673px;width:55px;"><span class="s">۱,۹۶۶</span></div>
<div class="t n" style="left:295px;top:673px;width:60px;"><span class="s">۱,۹۶۶</span></div>
<div class="t n" style="left:215px;top:673px;width:79px;"><span class="s">۱,۴۴۹,۱۳۵</span></div>
<div class="t n" style="left:118px;top:673px;width:96px;"><span class="s">۲,۸۴۹</span></div>
<div class="t" style="left:36px;top:673px;width:81px;text-align:right;">تولید</div>
<div class="r" style="left:1798px;top:697px;width:86px;height:41px;background:#fee1a0;"></div>
<div class="r" style="left:1754px;top:697px;width:44px;height:41px;background:#fee1a0;"></div>
<div class="r" style="left:1698px;top:697px;width:56px;height:41px;background:#fee1a0;"></div>
<div class="r" style="left:1637px;top:697px;width:61px;height:41px;background:#fee1a0;"></div>
<div class="r" style="left:1560px;top:697px;width:77px;height:41px;background:#fee1a0;"></div>
<div class="r" style="left:1464px;top:697px;width:96px;height:41px;background:#fee1a0;"></div>
<div class="r" style="left:1417px;top:697px;width:47px;height:41px;background:#fee1a0;"></div>
<div class="r" style="left:1365px;top:697px;width:52px;height:41px;background:#fee1a0;"></div>
<div class="r" style="left:1276px;top:697px;width:89px;height:41px;background:#fee1a0;"></div>
<div class="r" style="left:1222px;top:697px;width:54px;height:41px;background:#fee1a0;"></div>
<div class="r" style="left:1165px;top:697px;width:57px;height:41px;background:#fee1a0;"></div>
<div class="r" style="left:1087px;top:697px;width:78px;height:41px;background:#fee1a0;"></div>
<div class="r" style="left:991px;top:697px;width:96px;height:41px;background:#fee1a0;"></div>
<div class="r" style="left:936px;top:697px;width:55px;height:41px;background:#fee1a0;"></div>
<div class="r" style="left:877px;top:697px;width:59px;height:41px;background:#fee1a0;"></div>
<div class="r" style="left:799px;top:697px;width:78px;height:41px;background:#fee1a0;"></div>
<div class="r" style="left:703px;top:697px;width:96px;height:41px;background:#fee1a0;"></div>
<div class="r" style="left:647px;top:697px;width:56px;height:41px;background:#fee1a0;"></div>
<div class="r" style="left:587px;top:697px;width:60px;height:41px;background:#fee1a0;"></div>
<div class="r" style="left:509px;top:697px;width:78px;height:41px;background:#fee1a0;"></div>
<div class="r" style="left:411px;top:697px;width:98px;height:41px;background:#fee1a0;"></div>
<div class="r" style="left:355px;top:697px;width:56px;height:41px;background:#fee1a0;"></div>
<div class="r" style="left:294px;top:697px;width:61px;height:41px;background:#fee1a0;"></div>
<div class="r" style="left:214px;top:697px;width:80px;height:41px;background:#fee1a0;"></div>
<div class="r" style="left:117px;top:697px;width:97px;height:41px;background:#fee1a0;"></div>
<div class="r" style="left:35px;top:697px;width:82px;height:41px;background:#fee1a0;"></div>
<div class="t" style="left:1799px;top:697px;width:85px;text-align:right;">جمع فروش<br>داخلی</div>
<div class="t n" style="left:1699px;top:697px;width:55px;"><span class="s">۳۴۳,۵۲۹</span></div>
<div class="t n" style="left:1638px;top:697px;width:60px;"><span class="s">۳۴۳,۵۲۹</span></div>
<div class="t n" style="left:1465px;top:697px;width:95px;"><span class="s">۶۱۴,۳۸۹</span></div>
<div class="t n" style="left:1418px;top:697px;width:46px;"><span class="s"><i class="z"></i></span></div>
<div class="t n" style="left:1366px;top:697px;width:51px;"><span class="s"><i class="z"></i></span></div>
<div class="t n" style="left:1277px;top:697px;width:88px;"><span class="s"><i class="z"></i></span></div>
<div class="t n" style="left:1223px;top:697px;width:53px;"><span class="s"><i class="z"></i></span></div>
<div class="t n" style="left:1166px;top:697px;width:56px;"><span class="s"><i class="z"></i></span></div>
<div class="t n" style="left:992px;top:697px;width:95px;"><span class="s">۶۱۴,۳۸۹</span></div>
<div class="t n" style="left:937px;top:697px;width:54px;"><span class="s">۳<i class="z"></i>۲,<i class="z"></i>۹۷</span></div>
<div class="t n" style="left:878px;top:697px;width:58px;"><span class="s">۳<i class="z"></i>۲,<i class="z"></i>۹۷</span></div>
<div class="t n" style="left:704px;top:697px;width:95px;"><span class="s">۵۶۹,<i class="z"></i><i class="z"></i>۶</span></div>
<div class="t n" style="left:648px;top:697px;width:55px;"><span class="s">۶۴۵,۶۲۶</span></div>
<div class="t n" style="left:588px;top:697px;width:59px;"><span class="s">۶۴۵,۶۲۶</span></div>
<div class="t n" style="left:412px;top:697px;width:97px;"><span class="s">۱,۱۸۳,۳۹۵</span></div>
<div class="t n" style="left:356px;top:697px;width:55px;"><span class="s">۵۷۴,۲۸۲</span></div>
<div class="t n" style="left:295px;top:697px;width:60px;"><span class="s">۵۴۸,۳۵۳</span></div>
<div class="t n" style="left:118px;top:697px;width:96px;"><span class="s">۷۷۴,۸۷۳</span></div>
<div class="r" style="left:35px;top:738px;width:1849px;height:24px;background:#d3d3d3;"></div>
<div class="t" style="left:1799px;top:738px;width:85px;text-align:right;font-weight:bold;">فروش صادراتی:</div>
<div class="r" style="left:1798px;top:762px;width:86px;height:25px;background:#d4e6f7;"></div>
<div class="r" style="left:1754px;top:762px;width:44px;height:25px;background:#d4e6f7;"></div>
<div class="r" style="left:1698px;top:762px;width:56px;height:25px;background:#d4e6f7;"></div>
<div class="r" style="left:1637px;top:762px;width:61px;height:25px;background:#d4e6f7;"></div>
<div class="r" style="left:1560px;top:762px;width:77px;height:25px;background:#fee1a0;"></div>
<div class="r" style="left:1464px;top:762px;width:96px;height:25px;background:#d4e6f7;"></div>
<div class="r" style="left:1417px;top:762px;width:47px;height:25px;background:#d4e6f7;"></div>
<div class="r" style="left:1365px;top:762px;width:52px;height:25px;background:#d4e6f7;"></div>
<div class="r" style="left:1276px;top:762px;width:89px;height:25px;background:#d4e6f7;"></div>
<div class="r" style="left:1222px;top:762px;width:54px;height:25px;background:#fee1a0;"></div>
<div class="r" style="left:1165px;top:762px;width:57px;height:25px;background:#fee1a0;"></div>
<div class="r" style="left:1087px;top:762px;width:78px;height:25px;background:#fee1a0;"></div>
<div class="r" style="left:991px;top:762px;width:96px;height:25px;background:#fee1a0;"></div>
<div class="r" style="left:936px;top:762px;width:55px;height:25px;background:#d4e6f7;"></div>
<div class="r" style="left:877px;top:762px;width:59px;height:25px;background:#d4e6f7;"></div>
<div class="r" style="left:799px;top:762px;width:78px;height:25px;background:#fee1a0;"></div>
<div class="r" style="left:703px;top:762px;width:96px;height:25px;background:#d4e6f7;"></div>
<div class="r" style="left:647px;top:762px;width:56px;height:25px;background:#fee1a0;"></div>
<div class="r" style="left:587px;top:762px;width:60px;height:25px;background:#fee1a0;"></div>
<div class="r" style="left:509px;top:762px;width:78px;height:25px;background:#fee1a0;"></div>
<div class="r" style="left:411px;top:762px;width:98px;height:25px;background:#fee1a0;"></div>
<div class="r" style="left:355px;top:762px;width:56px;height:25px;background:#d4e6f7;"></div>
<div class="r" style="left:294px;top:762px;width:61px;height:25px;background:#d4e6f7;"></div>
<div class="r" style="left:214px;top:762px;width:80px;height:25px;background:#fee1a0;"></div>
<div class="r" style="left:117px;top:762px;width:97px;height:25px;background:#d4e6f7;"></div>
<div class="r" style="left:35px;top:762px;width:82px;height:25px;background:#d4e6f7;"></div>
<div class="t" style="left:1799px;top:762px;width:85px;text-align:right;">آدامس بادکنکي</div>
<div class="t" style="left:1755px;top:762px;width:43px;text-align:right;">کیلوگرم</div>
<div class="t n" style="left:1699px;top:762px;width:55px;"><span class="s">۱<i class="z"></i><i class="z"></i></span></div>
<div class="t n" style="left:1638px;top:762px;width:60px;"><span class="s">۱<i class="z"></i><i class="z"></i></span></div>
<div class="t n" style="left:1561px;top:762px;width:76px;"><span class="s">۲,۵<i class="z"></i><i class="z"></i>,<i class="z"></i><i class="z"></i><i class="z"></i></span></div>
<div class="t n" style="left:1465px;top:762px;width:95px;"><span class="s">۲۵<i class="z"></i></span></div>
<div class="t n" style="left:1277px;top:762px;width:88px;"><span class="s"><i class="z"></i></span></div>
<div class="t n" style="left:1223px;top:762px;width:53px;"><span class="s">۱<i class="z"></i><i class="z"></i></span></div>
<div class="t n" style="left:1166px;top:762px;width:56px;"><span class="s">۱<i class="z"></i><i class="z"></i></span></div>
<div class="t n" style="left:1088px;top:762px;width:77px;"><span class="s">۲,۵<i class="z"></i><i class="z"></i>,<i class="z"></i><i class="z"></i><i class="z"></i></span></div>
<div class="t n" style="left:992px;top:762px;width:95px;"><span class="s">۲۵<i class="z"></i></span></div>
<div class="t n" style="left:800px;top:762px;width:77px;"><span class="s"><i class="z"></i></span></div>
<div class="t n" style="left:704px;top:762px;width:95px;"><span class="s"><i class="z"></i></span></div>
<div class="t n" style="left:648px;top:762px;width:55px;"><span class="s">۱<i class="z"></i><i class="z"></i></span></div>
<div class="t n" style="left:588px;top:762px;width:59px;"><span class="s">۱<i class="z"></i><i class="z"></i></span></div>
<div class="t n" style="left:510px;top:762px;width:77px;"><span class="s">۲,۵<i class="z"></i><i class="z"></i>,<i class="z"></i><i class="z"></i><i class="z"></i></span></div>
<div class="t n" style="left:412px;top:762px;width:97px;"><span class="s">۲۵<i class="z"></i></span></div>
<div class="t n" style="left:356px;top:762px;width:55px;"><span class="s">۲۵<i class="z"></i></span></div>
<div class="t n" style="left:295px;top:762px;width:60px;"><span class="s">۲۵<i class="z"></i></span></div>
<div class="t n" style="left:215px;top:762px;width:79px;"><span class="s">۱,۳۶۴,<i class="z"></i><i class="z"></i><i class="z"></i></span></div>
<div class="t n" style="left:118px;top:762px;width:96px;"><span class="s">۳۴۱</span></div>
<div class="t" style="left:36px;top:762px;width:81px;text-align:right;">تولید</div>
<div class="r" style="left:1798px;top:787px;width:86px;height:41px;background:#fee1a0;"></div>
<div class="r" style="left:1754px;top:787px;width:44px;height:41px;background:#fee1a0;"></div>
<div class="r" style="left:1698px;top:787px;width:56px;height:41px;background:#fee1a0;"></div>
<div class="r" style="left:1637px;top:787px;width:61px;height:41px;background:#fee1a0;"></div>
<div class="r" style="left:1560px;top:787px;width:77px;height:41px;background:#fee1a0;"></div>
<div class="r" style="left:1464px;top:787px;width:96px;height:41px;background:#fee1a0;"></div>
<div class="r" style="left:1417px;top:787px;width:47px;height:41px;background:#fee1a0;"></div>
<div class="r" style="left:1365px;top:787px;width:52px;height:41px;background:#fee1a0;"></div>
<div class="r" style="left:1276px;top:787px;width:89px;height:41px;background:#fee1a0;"></div>
<div class="r" style="left:1222px;top:787px;width:54px;height:41px;background:#fee1a0;"></div>
<div class="r" style="left:1165px;top:787px;width:57px;height:41px;background:#fee1a0;"></div>
<div class="r" style="left:1087px;top:787px;width:78px;height:41px;background:#fee1a0;"></div>
<div class="r" style="left:991px;top:787px;width:96px;height:41px;background:#fee1a0;"></div>
<div class="r" style="left:936px;top:787px;width:55px;height:41px;background:#fee1a0;"></div>
<div class="r" style="left:877px;top:787px;width:59px;height:41px;background:#fee1a0;"></div>
<div class="r" style="left:799px;top:787px;width:78px;height:41px;background:#fee1a0;"></div>
<div class="r" style="left:703px;top:787px;width:96px;height:41px;background:#fee1a0;"></div>
<div class="r" style="left:647px;top:787px;width:56px;height:41px;background:#fee1a0;"></div>
<div class="r" style="left:587px;top:787px;width:60px;height:41px;background:#fee1a0;"></div>
<div class="r" style="left:509px;top:787px;width:78px;height:41px;background:#fee1a0;"></div>
<div class="r" style="left:411px;top:787px;width:98px;height:41px;background:#fee1a0;"></div>
<div class="r" style="left:355px;top:787px;width:56px;height:41px;background:#fee1a0;"></div>
<div class="r" style="left:294px;top:787px;width:61px;height:41px;background:#fee1a0;"></div>
<div class="r" style="left:214px;top:787px;width:80px;height:41px;background:#fee1a0;"></div>
<div class="r" style="left:117px;top:787px;width:97px;height:41px;background:#fee1a0;"></div>
<div class="r" style="left:35px;top:787px;width:82px;height:41px;background:#fee1a0;"></div>
<div class="t" style="left:1799px;top:787px;width:85px;text-align:right;">جمع فروش<br>صادراتی</div>
<div class="t n" style="left:1699px;top:787px;width:55px;"><span class="s">۱<i class="z"></i><i class="z"></i></span></div>
<div class="t n" style="left:1638px;top:787px;width:60px;"><span class="s">۱<i class="z"></i><i class="z"></i></span></div>
<div class="t n" style="left:1465px;top:787px;width:95px;"><span class="s">۲۵<i class="z"></i></span></div>
<div class="t n" style="left:1418px;top:787px;width:46px;"><span class="s"><i class="z"></i></span></div>
<div class="t n" style="left:1366px;top:787px;width:51px;"><span class="s"><i class="z"></i></span></div>
<div class="t n" style="left:1277px;top:787px;width:88px;"><span class="s"><i class="z"></i></span></div>
<div class="t n" style="left:1223px;top:787px;width:53px;"><span class="s"><i class="z"></i></span></div>
<div class="t n" style="left:1166px;top:787px;width:56px;"><span class="s"><i class="z"></i></span></div>
<div class="t n" style="left:992px;top:787px;width:95px;"><span class="s">۲۵<i class="z"></i></span></div>
<div class="t n" style="left:937px;top:787px;width:54px;"><span class="s"><i class="z"></i></span></div>
<div class="t n" style="left:878px;top:787px;width:58px;"><span class="s"><i class="z"></i></span></div>
<div class="t n" style="left:704px;top:787px;width:95px;"><span class="s"><i class="z"></i></span></div>
<div class="t n" style="left:648px;top:787px;width:55px;"><span class="s">۱<i class="z"></i><i class="z"></i></span></div>
<div class="t n" style="left:588px;top:787px;width:59px;"><span class="s">۱<i class="z"></i><i class="z"></i></span></div>
<div class="t n" style="left:412px;top:787px;width:97px;"><span class="s">۲۵<i class="z"></i></span></div>
<div class="t n" style="left:356px;top:787px;width:55px;"><span class="s">۲۵<i class="z"></i></span></div>
<div class="t n" style="left:295px;top:787px;width:60px;"><span class="s">۲۵<i class="z"></i></span></div>
<div class="t n" style="left:118px;top:787px;width:96px;"><span class="s">۳۴۱</span></div>
<div class="r" style="left:35px;top:828px;width:1849px;height:42px;background:#d3d3d3;"></div>
<div class="t" style="left:1799px;top:828px;width:85px;text-align:right;font-weight:bold;">درآمد ارائه<br>خدمات:</div>
<div class="r" style="left:1798px;top:870px;width:86px;height:40px;background:#fee1a0;"></div>
<div class="r" style="left:1754px;top:870px;width:44px;height:40px;background:#fee1a0;"></div>
<div class="r" style="left:1698px;top:870px;width:56px;height:40px;background:#fee1a0;"></div>
<div class="r" style="left:1637px;top:870px;width:61px;height:40px;background:#fee1a0;"></div>
<div class="r" style="left:1560px;top:870px;width:77px;height:40px;background:#fee1a0;"></div>
<div class="r" style="left:1464px;top:870px;width:96px;height:40px;background:#fee1a0;"></div>
<div class="r" style="left:1417px;top:870px;width:47px;height:40px;background:#fee1a0;"></div>
<div class="r" style="left:1365px;top:870px;width:52px;height:40px;background:#fee1a0;"></div>
<div class="r" style="left:1276px;top:870px;width:89px;height:40px;background:#fee1a0;"></div>
<div class="r" style="left:1222px;top:870px;width:54px;height:40px;background:#fee1a0;"></div>
<div class="r" style="left:1165px;top:870px;width:57px;height:40px;background:#fee1a0;"></div>
<div class="r" style="left:1087px;top:870px;width:78px;height:40px;background:#fee1a0;"></div>
<div class="r" style="left:991px;top:870px;width:96px;height:40px;background:#fee1a0;"></div>
<div class="r" style="left:936px;top:870px;width:55px;height:40px;background:#fee1a0;"></div>
<div class="r" style="left:877px;top:870px;width:59px;height:40px;background:#fee1a0;"></div>
<div class="r" style="left:799px;top:870px;width:78px;height:40px;background:#fee1a0;"></div>
<div class="r" style="left:703px;top:870px;width:96px;height:40px;background:#fee1a0;"></div>
<div class="r" style="left:647px;top:870px;width:56px;height:40px;background:#fee1a0;"></div>
<div class="r" style="left:587px;top:870px;width:60px;height:40px;background:#fee1a0;"></div>
<div class="r" style="left:509px;top:870px;width:78px;height:40px;background:#fee1a0;"></div>
<div class="r" style="left:411px;top:870px;width:98px;height:40px;background:#fee1a0;"></div>
<div class="r" style="left:355px;top:870px;width:56px;height:40px;background:#fee1a0;"></div>
<div class="r" style="left:294px;top:870px;width:61px;height:40px;background:#fee1a0;"></div>
<div class="r" style="left:214px;top:870px;width:80px;height:40px;background:#fee1a0;"></div>
<div class="r" style="left:117px;top:870px;width:97px;height:40px;background:#fee1a0;"></div>
<div class="r" style="left:35px;top:870px;width:82px;height:40px;background:#fee1a0;"></div>
<div class="t" style="left:1799px;top:870px;width:85px;text-align:right;">جمع درآمد ارائه<br>خدمات</div>
<div class="t n" style="left:1699px;top:870px;width:55px;"><span class="s"><i class="z"></i></span></div>
<div class="t n" style="left:1638px;top:870px;width:60px;"><span class="s"><i class="z"></i></span></div>
<div class="t n" style="left:1465px;top:870px;width:95px;"><span class="s"><i class="z"></i></span></div>
<div class="t n" style="left:1418px;top:870px;width:46px;"><span class="s"><i class="z"></i></span></div>
<div class="t n" style="left:1366px;top:870px;width:51px;"><span class="s"><i class="z"></i></span></div>
<div class="t n" style="left:1277px;top:870px;width:88px;"><span class="s"><i class="z"></i></span></div>
<div class="t n" style="left:1223px;top:870px;width:53px;"><span class="s"><i class="z"></i></span></div>
<div class="t n" style="left:1166px;top:870px;width:56px;"><span class="s"><i class="z"></i></span></div>
<div class="t n" style="left:992px;top:870px;width:95px;"><span class="s"><i class="z"></i></span></div>
<div class="t n" style="left:937px;top:870px;width:54px;"><span class="s"><i class="z"></i></span></div>
<div class="t n" style="left:878px;top:870px;width:58px;"><span class="s"><i class="z"></i></span></div>
<div class="t n" style="left:704px;top:870px;width:95px;"><span class="s"><i class="z"></i></span></div>
<div class="t n" style="left:648px;top:870px;width:55px;"><span class="s"><i class="z"></i></span></div>
<div class="t n" style="left:588px;top:870px;width:59px;"><span class="s"><i class="z"></i></span></div>
<div class="t n" style="left:412px;top:870px;width:97px;"><span class="s"><i class="z"></i></span></div>
<div class="t n" style="left:356px;top:870px;width:55px;"><span class="s"><i class="z"></i></span></div>
<div class="t n" style="left:295px;top:870px;width:60px;"><span class="s"><i class="z"></i></span></div>
<div class="t n" style="left:118px;top:870px;width:96px;"><span class="s"><i class="z"></i></span></div>
<div class="r" style="left:35px;top:910px;width:1849px;height:42px;background:#d3d3d3;"></div>
<div class="t" style="left:1799px;top:910px;width:85px;text-align:right;font-weight:bold;">برگشت از<br>فروش:</div>
<div class="r" style="left:1798px;top:952px;width:86px;height:24px;background:#efefef;"></div>
<div class="r" style="left:1754px;top:952px;width:44px;height:24px;background:#efefef;"></div>
<div class="r" style="left:1698px;top:952px;width:56px;height:24px;background:#efefef;"></div>
<div class="r" style="left:1637px;top:952px;width:61px;height:24px;background:#efefef;"></div>
<div class="r" style="left:1560px;top:952px;width:77px;height:24px;background:#fee1a0;"></div>
<div class="r" style="left:1464px;top:952px;width:96px;height:24px;background:#efefef;"></div>
<div class="r" style="left:1417px;top:952px;width:47px;height:24px;background:#efefef;"></div>
<div class="r" style="left:1365px;top:952px;width:52px;height:24px;background:#efefef;"></div>
<div class="r" style="left:1276px;top:952px;width:89px;height:24px;background:#efefef;"></div>
<div class="r" style="left:1222px;top:952px;width:54px;height:24px;background:#efefef;"></div>
<div class="r" style="left:1165px;top:952px;width:57px;height:24px;background:#fee1a0;"></div>
<div class="r" style="left:1087px;top:952px;width:78px;height:24px;background:#fee1a0;"></div>
<div class="r" style="left:991px;top:952px;width:96px;height:24px;background:#fee1a0;"></div>
<div class="r" style="left:936px;top:952px;width:55px;height:24px;background:#efefef;"></div>
<div class="r" style="left:877px;top:952px;width:59px;height:24px;background:#efefef;"></div>
<div class="r" style="left:799px;top:952px;width:78px;height:24px;background:#fee1a0;"></div>
<div class="r" style="left:703px;top:952px;width:96px;height:24px;background:#efefef;"></div>
<div class="r" style="left:647px;top:952px;width:56px;height:24px;background:#fee1a0;"></div>
<div class="r" style="left:587px;top:952px;width:60px;height:24px;background:#fee1a0;"></div>
<div class="r" style="left:509px;top:952px;width:78px;height:24px;background:#fee1a0;"></div>
<div class="r" style="left:411px;top:952px;width:98px;height:24px;background:#fee1a0;"></div>
<div class="r" style="left:355px;top:952px;width:56px;height:24px;background:#efefef;"></div>
<div class="r" style="left:294px;top:952px;width:61px;height:24px;background:#efefef;"></div>
<div class="r" style="left:214px;top:952px;width:80px;height:24px;background:#fee1a0;"></div>
<div class="r" style="left:117px;top:952px;width:97px;height:24px;background:#efefef;"></div>
<div class="r" style="left:35px;top:952px;width:82px;height:24px;background:#efefef;"></div>
<div class="t" style="left:1799px;top:952px;width:85px;text-align:right;">شکلات</div>
<div class="t" style="left:1755px;top:952px;width:43px;text-align:right;">کیلوگرم</div>
<div class="t n" style="left:1561px;top:952px;width:76px;"><span class="s"><i class="z"></i></span></div>
<div class="t n" style="left:1166px;top:952px;width:56px;"><span class="s"><i class="z"></i></span></div>
<div class="t n" style="left:1088px;top:952px;width:77px;"><span class="s"><i class="z"></i></span></div>
<div class="t n" style="left:992px;top:952px;width:95px;"><span class="s"><i class="z"></i></span></div>
<div class="t n" style="left:800px;top:952px;width:77px;"><span class="s"><i class="z"></i></span></div>
<div class="t n" style="left:588px;top:952px;width:59px;"><span class="s"><i class="z"></i></span></div>
<div class="t n" style="left:510px;top:952px;width:77px;"><span class="s"><i class="z"></i></span></div>
<div class="t n" style="left:412px;top:952px;width:97px;"><span class="s"><i class="z"></i></span></div>
<div class="t n" style="left:295px;top:952px;width:60px;color:#e0161b;font-weight:normal;"><span class="s">(۱۴)</span></div>
<div class="t n" style="left:215px;top:952px;width:79px;"><span class="s">۳,۱۴۲,۸۵۷</span></div>
<div class="t n" style="left:118px;top:952px;width:96px;color:#e0161b;font-weight:normal;"><span class="s">(۴۴)</span></div>
<div class="t" style="left:36px;top:952px;width:81px;text-align:right;">تولید</div>
<div class="r" style="left:1798px;top:976px;width:86px;height:41px;background:#d4e6f7;"></div>
<div class="r" style="left:1754px;top:976px;width:44px;height:41px;background:#d4e6f7;"></div>
<div class="r" style="left:1698px;top:976px;width:56px;height:41px;background:#d4e6f7;"></div>
<div class="r" style="left:1637px;top:976px;width:61px;height:41px;background:#d4e6f7;"></div>
<div class="r" style="left:1560px;top:976px;width:77px;height:41px;background:#fee1a0;"></div>
<div class="r" style="left:1464px;top:976px;width:96px;height:41px;background:#d4e6f7;"></div>
<div class="r" style="left:1417px;top:976px;width:47px;height:41px;background:#d4e6f7;"></div>
<div class="r" style="left:1365px;top:976px;width:52px;height:41px;background:#d4e6f7;"></div>
<div class="r" style="left:1276px;top:976px;width:89px;height:41px;background:#d4e6f7;"></div>
<div class="r" style="left:1222px;top:976px;width:54px;height:41px;background:#d4e6f7;"></div>
<div class="r" style="left:1165px;top:976px;width:57px;height:41px;background:#fee1a0;"></div>
<div class="r" style="left:1087px;top:976px;width:78px;height:41px;background:#fee1a0;"></div>
<div class="r" style="left:991px;top:976px;width:96px;height:41px;background:#fee1a0;"></div>
<div class="r" style="left:936px;top:976px;width:55px;height:41px;background:#d4e6f7;"></div>
<div class="r" style="left:877px;top:976px;width:59px;height:41px;background:#d4e6f7;"></div>
<div class="r" style="left:799px;top:976px;width:78px;height:41px;background:#fee1a0;"></div>
<div class="r" style="left:703px;top:976px;width:96px;height:41px;background:#d4e6f7;"></div>
<div class="r" style="left:647px;top:976px;width:56px;height:41px;background:#fee1a0;"></div>
<div class="r" style="left:587px;top:976px;width:60px;height:41px;background:#fee1a0;"></div>
<div class="r" style="left:509px;top:976px;width:78px;height:41px;background:#fee1a0;"></div>
<div class="r" style="left:411px;top:976px;width:98px;height:41px;background:#fee1a0;"></div>
<div class="r" style="left:355px;top:976px;width:56px;height:41px;background:#d4e6f7;"></div>
<div class="r" style="left:294px;top:976px;width:61px;height:41px;background:#d4e6f7;"></div>
<div class="r" style="left:214px;top:976px;width:80px;height:41px;background:#fee1a0;"></div>
<div class="r" style="left:117px;top:976px;width:97px;height:41px;background:#d4e6f7;"></div>
<div class="r" style="left:35px;top:976px;width:82px;height:41px;background:#d4e6f7;"></div>
<div class="t" style="left:1799px;top:976px;width:85px;text-align:right;">شربت پودري و<br>مايع</div>
<div class="t" style="left:1755px;top:976px;width:43px;text-align:right;">کیلوگرم</div>
<div class="t n" style="left:1561px;top:976px;width:76px;"><span class="s"><i class="z"></i></span></div>
<div class="t n" style="left:1166px;top:976px;width:56px;"><span class="s"><i class="z"></i></span></div>
<div class="t n" style="left:1088px;top:976px;width:77px;"><span class="s"><i class="z"></i></span></div>
<div class="t n" style="left:992px;top:976px;width:95px;"><span class="s"><i class="z"></i></span></div>
<div class="t n" style="left:800px;top:976px;width:77px;"><span class="s"><i class="z"></i></span></div>
<div class="t n" style="left:588px;top:976px;width:59px;"><span class="s"><i class="z"></i></span></div>
<div class="t n" style="left:510px;top:976px;width:77px;"><span class="s"><i class="z"></i></span></div>
<div class="t n" style="left:412px;top:976px;width:97px;"><span class="s"><i class="z"></i></span></div>
<div class="t n" style="left:295px;top:976px;width:60px;color:#e0161b;font-weight:normal;"><span class="s">(۶۵)</span></div>
<div class="t n" style="left:215px;top:976px;width:79px;"><span class="s">۷۶۹,۲۳۱</span></div>
<div class="t n" style="left:118px;top:976px;width:96px;color:#e0161b;font-weight:normal;"><span class="s">(۵<i class="z"></i>)</span></div>
<div class="t" style="left:36px;top:976px;width:81px;text-align:right;">تولید</div>
<div class="r" style="left:1798px;top:1017px;width:86px;height:41px;background:#efefef;"></div>
<div class="r" style="left:1754px;top:1017px;width:44px;height:41px;background:#efefef;"></div>
<div class="r" style="left:1698px;top:1017px;width:56px;height:41px;background:#efefef;"></div>
<div class="r" style="left:1637px;top:1017px;width:61px;height:41px;background:#efefef;"></div>
<div class="r" style="left:1560px;top:1017px;width:77px;height:41px;background:#fee1a0;"></div>
<div class="r" style="left:1464px;top:1017px;width:96px;height:41px;background:#efefef;"></div>
<div class="r" style="left:1417px;top:1017px;width:47px;height:41px;background:#efefef;"></div>
<div class="r" style="left:1365px;top:1017px;width:52px;height:41px;background:#efefef;"></div>
<div class="r" style="left:1276px;top:1017px;width:89px;height:41px;background:#efefef;"></div>
<div class="r" style="left:1222px;top:1017px;width:54px;height:41px;background:#efefef;"></div>
<div class="r" style="left:1165px;top:1017px;width:57px;height:41px;background:#fee1a0;"></div>
<div class="r" style="left:1087px;top:1017px;width:78px;height:41px;background:#fee1a0;"></div>
<div class="r" style="left:991px;top:1017px;width:96px;height:41px;background:#fee1a0;"></div>
<div class="r" style="left:936px;top:1017px;width:55px;height:41px;background:#efefef;"></div>
<div class="r" style="left:877px;top:1017px;width:59px;height:41px;background:#efefef;"></div>
<div class="r" style="left:799px;top:1017px;width:78px;height:41px;background:#fee1a0;"></div>
<div class="r" style="left:703px;top:1017px;width:96px;height:41px;background:#efefef;"></div>
<div class="r" style="left:647px;top:1017px;width:56px;height:41px;background:#fee1a0;"></div>
<div class="r" style="left:587px;top:1017px;width:60px;height:41px;background:#fee1a0;"></div>
<div class="r" style="left:509px;top:1017px;width:78px;height:41px;background:#fee1a0;"></div>
<div class="r" style="left:411px;top:1017px;width:98px;height:41px;background:#fee1a0;"></div>
<div class="r" style="left:355px;top:1017px;width:56px;height:41px;background:#efefef;"></div>
<div class="r" style="left:294px;top:1017px;width:61px;height:41px;background:#efefef;"></div>
<div class="r" style="left:214px;top:1017px;width:80px;height:41px;background:#fee1a0;"></div>
<div class="r" style="left:117px;top:1017px;width:97px;height:41px;background:#efefef;"></div>
<div class="r" style="left:35px;top:1017px;width:82px;height:41px;background:#efefef;"></div>
<div class="t sm" style="left:1799px;top:1017px;width:85px;text-align:right;">پودر ژله و کاکائو<br>و کیک</div>
<div class="t" style="left:1755px;top:1017px;width:43px;text-align:right;">کیلوگرم</div>
<div class="t n" style="left:1561px;top:1017px;width:76px;"><span class="s"><i class="z"></i></span></div>
<div class="t n" style="left:1166px;top:1017px;width:56px;"><span class="s"><i class="z"></i></span></div>
<div class="t n" style="left:1088px;top:1017px;width:77px;"><span class="s"><i class="z"></i></span></div>
<div class="t n" style="left:992px;top:1017px;width:95px;"><span class="s"><i class="z"></i></span></div>
<div class="t n" style="left:800px;top:1017px;width:77px;"><span class="s"><i class="z"></i></span></div>
<div class="t n" style="left:588px;top:1017px;width:59px;"><span class="s"><i class="z"></i></span></div>
<div class="t n" style="left:510px;top:1017px;width:77px;"><span class="s"><i class="z"></i></span></div>
<div class="t n" style="left:412px;top:1017px;width:97px;"><span class="s"><i class="z"></i></span></div>
<div class="t n" style="left:295px;top:1017px;width:60px;color:#e0161b;font-weight:normal;"><span class="s">(۳۱)</span></div>
<div class="t n" style="left:215px;top:1017px;width:79px;"><span class="s">۱,۸۳۸,۷۱<i class="z"></i></span></div>
<div class="t n" style="left:118px;top:1017px;width:96px;color:#e0161b;font-weight:normal;"><span class="s">(۵۷)</span></div>
<div class="t" style="left:36px;top:1017px;width:81px;text-align:right;">تولید</div>
<div class="r" style="left:1798px;top:1058px;width:86px;height:24px;background:#d4e6f7;"></div>
<div class="r" style="left:1754px;top:1058px;width:44px;height:24px;background:#d4e6f7;"></div>
<div class="r" style="left:1698px;top:1058px;width:56px;height:24px;background:#d4e6f7;"></div>
<div class="r" style="left:1637px;top:1058px;width:61px;height:24px;background:#d4e6f7;"></div>
<div class="r" style="left:1560px;top:1058px;width:77px;height:24px;background:#fee1a0;"></div>
<div class="r" style="left:1464px;top:1058px;width:96px;height:24px;background:#d4e6f7;"></div>
<div class="r" style="left:1417px;top:1058px;width:47px;height:24px;background:#d4e6f7;"></div>
<div class="r" style="left:1365px;top:1058px;width:52px;height:24px;background:#d4e6f7;"></div>
<div class="r" style="left:1276px;top:1058px;width:89px;height:24px;background:#d4e6f7;"></div>
<div class="r" style="left:1222px;top:1058px;width:54px;height:24px;background:#d4e6f7;"></div>
<div class="r" style="left:1165px;top:1058px;width:57px;height:24px;background:#fee1a0;"></div>
<div class="r" style="left:1087px;top:1058px;width:78px;height:24px;background:#fee1a0;"></div>
<div class="r" style="left:991px;top:1058px;width:96px;height:24px;background:#fee1a0;"></div>
<div class="r" style="left:936px;top:1058px;width:55px;height:24px;background:#d4e6f7;"></div>
<div class="r" style="left:877px;top:1058px;width:59px;height:24px;background:#d4e6f7;"></div>
<div class="r" style="left:799px;top:1058px;width:78px;height:24px;background:#fee1a0;"></div>
<div class="r" style="left:703px;top:1058px;width:96px;height:24px;background:#d4e6f7;"></div>
<div class="r" style="left:647px;top:1058px;width:56px;height:24px;background:#fee1a0;"></div>
<div class="r" style="left:587px;top:1058px;width:60px;height:24px;background:#fee1a0;"></div>
<div class="r" style="left:509px;top:1058px;width:78px;height:24px;background:#fee1a0;"></div>
<div class="r" style="left:411px;top:1058px;width:98px;height:24px;background:#fee1a0;"></div>
<div class="r" style="left:355px;top:1058px;width:56px;height:24px;background:#d4e6f7;"></div>
<div class="r" style="left:294px;top:1058px;width:61px;height:24px;background:#d4e6f7;"></div>
<div class="r" style="left:214px;top:1058px;width:80px;height:24px;background:#fee1a0;"></div>
<div class="r" style="left:117px;top:1058px;width:97px;height:24px;background:#d4e6f7;"></div>
<div class="r" style="left:35px;top:1058px;width:82px;height:24px;background:#d4e6f7;"></div>
<div class="t" style="left:1799px;top:1058px;width:85px;text-align:right;">آدامس بادکنکي</div>
<div class="t" style="left:1755px;top:1058px;width:43px;text-align:right;">کیلوگرم</div>
<div class="t n" style="left:1561px;top:1058px;width:76px;"><span class="s"><i class="z"></i></span></div>
<div class="t n" style="left:1166px;top:1058px;width:56px;"><span class="s"><i class="z"></i></span></div>
<div class="t n" style="left:1088px;top:1058px;width:77px;"><span class="s"><i class="z"></i></span></div>
<div class="t n" style="left:992px;top:1058px;width:95px;"><span class="s"><i class="z"></i></span></div>
<div class="t n" style="left:800px;top:1058px;width:77px;"><span class="s"><i class="z"></i></span></div>
<div class="t n" style="left:588px;top:1058px;width:59px;"><span class="s"><i class="z"></i></span></div>
<div class="t n" style="left:510px;top:1058px;width:77px;"><span class="s"><i class="z"></i></span></div>
<div class="t n" style="left:412px;top:1058px;width:97px;"><span class="s"><i class="z"></i></span></div>
<div class="t n" style="left:295px;top:1058px;width:60px;color:#e0161b;font-weight:normal;"><span class="s">(۱۶)</span></div>
<div class="t n" style="left:215px;top:1058px;width:79px;"><span class="s">۲,۶۸۷,۵<i class="z"></i><i class="z"></i></span></div>
<div class="t n" style="left:118px;top:1058px;width:96px;color:#e0161b;font-weight:normal;"><span class="s">(۴۳)</span></div>
<div class="t" style="left:36px;top:1058px;width:81px;text-align:right;">تولید</div>
<div class="r" style="left:1884px;top:435px;width:1px;height:645px;background:#bababa"></div>
<div class="r" style="left:1798px;top:435px;width:1px;height:645px;background:#bababa"></div>
<div class="r" style="left:1754px;top:435px;width:1px;height:645px;background:#bababa"></div>
<div class="r" style="left:1698px;top:435px;width:1px;height:645px;background:#bababa"></div>
<div class="r" style="left:1637px;top:435px;width:1px;height:645px;background:#bababa"></div>
<div class="r" style="left:1560px;top:435px;width:1px;height:645px;background:#bababa"></div>
<div class="r" style="left:1464px;top:435px;width:1px;height:645px;background:#bababa"></div>
<div class="r" style="left:1417px;top:435px;width:1px;height:645px;background:#bababa"></div>
<div class="r" style="left:1365px;top:435px;width:1px;height:645px;background:#bababa"></div>
<div class="r" style="left:1276px;top:435px;width:1px;height:645px;background:#bababa"></div>
<div class="r" style="left:1222px;top:435px;width:1px;height:645px;background:#bababa"></div>
<div class="r" style="left:1165px;top:435px;width:1px;height:645px;background:#bababa"></div>
<div class="r" style="left:1087px;top:435px;width:1px;height:645px;background:#bababa"></div>
<div class="r" style="left:991px;top:435px;width:1px;height:645px;background:#bababa"></div>
<div class="r" style="left:936px;top:435px;width:1px;height:645px;background:#bababa"></div>
<div class="r" style="left:877px;top:435px;width:1px;height:645px;background:#bababa"></div>
<div class="r" style="left:799px;top:435px;width:1px;height:645px;background:#bababa"></div>
<div class="r" style="left:703px;top:435px;width:1px;height:645px;background:#bababa"></div>
<div class="r" style="left:647px;top:435px;width:1px;height:645px;background:#bababa"></div>
<div class="r" style="left:587px;top:435px;width:1px;height:645px;background:#bababa"></div>
<div class="r" style="left:509px;top:435px;width:1px;height:645px;background:#bababa"></div>
<div class="r" style="left:411px;top:435px;width:1px;height:645px;background:#bababa"></div>
<div class="r" style="left:355px;top:435px;width:1px;height:645px;background:#bababa"></div>
<div class="r" style="left:294px;top:435px;width:1px;height:645px;background:#bababa"></div>
<div class="r" style="left:214px;top:435px;width:1px;height:645px;background:#bababa"></div>
<div class="r" style="left:117px;top:435px;width:1px;height:645px;background:#bababa"></div>
<div class="r" style="left:35px;top:435px;width:1px;height:645px;background:#bababa"></div>
<div class="r" style="left:35px;top:435px;width:1850px;height:1px;background:#bababa"></div>
<div class="r" style="left:35px;top:459px;width:1850px;height:1px;background:#bababa"></div>
<div class="r" style="left:35px;top:484px;width:1850px;height:1px;background:#bababa"></div>
<div class="r" style="left:35px;top:525px;width:1850px;height:1px;background:#bababa"></div>
<div class="r" style="left:35px;top:550px;width:1850px;height:1px;background:#bababa"></div>
<div class="r" style="left:35px;top:590px;width:1850px;height:1px;background:#bababa"></div>
<div class="r" style="left:35px;top:632px;width:1850px;height:1px;background:#bababa"></div>
<div class="r" style="left:35px;top:673px;width:1850px;height:1px;background:#bababa"></div>
<div class="r" style="left:35px;top:697px;width:1850px;height:1px;background:#bababa"></div>
<div class="r" style="left:35px;top:738px;width:1850px;height:1px;background:#bababa"></div>
<div class="r" style="left:35px;top:762px;width:1850px;height:1px;background:#bababa"></div>
<div class="r" style="left:35px;top:787px;width:1850px;height:1px;background:#bababa"></div>
<div class="r" style="left:35px;top:828px;width:1850px;height:1px;background:#bababa"></div>
<div class="r" style="left:35px;top:870px;width:1850px;height:1px;background:#bababa"></div>
<div class="r" style="left:35px;top:910px;width:1850px;height:1px;background:#bababa"></div>
<div class="r" style="left:35px;top:952px;width:1850px;height:1px;background:#bababa"></div>
<div class="r" style="left:35px;top:976px;width:1850px;height:1px;background:#bababa"></div>
<div class="r" style="left:35px;top:1017px;width:1850px;height:1px;background:#bababa"></div>
<div class="r" style="left:35px;top:1058px;width:1850px;height:1px;background:#bababa"></div>
<div class="r" style="left:35px;top:1082px;width:1850px;height:1px;background:#bababa"></div>
<div class="r" style="left:1798px;top:394px;width:1px;height:41px;background:#8fd0ec"></div>
<div class="r" style="left:1754px;top:370px;width:1px;height:65px;background:#8fd0ec"></div>
<div class="r" style="left:1698px;top:394px;width:1px;height:41px;background:#8fd0ec"></div>
<div class="r" style="left:1637px;top:394px;width:1px;height:41px;background:#8fd0ec"></div>
<div class="r" style="left:1560px;top:394px;width:1px;height:41px;background:#8fd0ec"></div>
<div class="r" style="left:1464px;top:370px;width:1px;height:65px;background:#8fd0ec"></div>
<div class="r" style="left:1417px;top:394px;width:1px;height:41px;background:#8fd0ec"></div>
<div class="r" style="left:1365px;top:394px;width:1px;height:41px;background:#8fd0ec"></div>
<div class="r" style="left:1276px;top:370px;width:1px;height:65px;background:#8fd0ec"></div>
<div class="r" style="left:1222px;top:394px;width:1px;height:41px;background:#8fd0ec"></div>
<div class="r" style="left:1165px;top:394px;width:1px;height:41px;background:#8fd0ec"></div>
<div class="r" style="left:1087px;top:394px;width:1px;height:41px;background:#8fd0ec"></div>
<div class="r" style="left:991px;top:370px;width:1px;height:65px;background:#8fd0ec"></div>
<div class="r" style="left:936px;top:394px;width:1px;height:41px;background:#8fd0ec"></div>
<div class="r" style="left:877px;top:394px;width:1px;height:41px;background:#8fd0ec"></div>
<div class="r" style="left:799px;top:394px;width:1px;height:41px;background:#8fd0ec"></div>
<div class="r" style="left:703px;top:370px;width:1px;height:65px;background:#8fd0ec"></div>
<div class="r" style="left:647px;top:394px;width:1px;height:41px;background:#8fd0ec"></div>
<div class="r" style="left:587px;top:394px;width:1px;height:41px;background:#8fd0ec"></div>
<div class="r" style="left:509px;top:394px;width:1px;height:41px;background:#8fd0ec"></div>
<div class="r" style="left:411px;top:370px;width:1px;height:65px;background:#8fd0ec"></div>
<div class="r" style="left:355px;top:394px;width:1px;height:41px;background:#8fd0ec"></div>
<div class="r" style="left:294px;top:394px;width:1px;height:41px;background:#8fd0ec"></div>
<div class="r" style="left:214px;top:394px;width:1px;height:41px;background:#8fd0ec"></div>
<div class="r" style="left:117px;top:370px;width:1px;height:65px;background:#8fd0ec"></div>
<div class="r" style="left:117px;top:394px;width:1767px;height:1px;background:#8fd0ec"></div>
<div class="h" style="left:1754px;top:373px;width:130px;">شرح</div>
<div class="h" style="left:1464px;top:373px;width:290px;">از ابتدای سال مالی تا تاریخ <span class="bo">۱۴<i class="z"></i>۴/<i class="z"></i>۲/۳۱</span></div>
<div class="h" style="left:1276px;top:373px;width:188px;">اصلاحات</div>
<div class="h" style="left:991px;top:373px;width:285px;">از ابتدای سال مالی تا تاریخ <span class="bo">۱۴<i class="z"></i>۴/<i class="z"></i>۲/۳۱</span> (اصلاح شده)</div>
<div class="h" style="left:703px;top:373px;width:288px;">دوره یک ماهه منتهی به <span class="bo">۱۴<i class="z"></i>۴/<i class="z"></i>۳/۳۱</span></div>
<div class="h" style="left:411px;top:373px;width:292px;">از ابتدای سال مالی تا تاریخ <span class="bo">۱۴<i class="z"></i>۴/<i class="z"></i>۳/۳۱</span></div>
<div class="h" style="left:117px;top:373px;width:294px;">از ابتدای سال مالی تا تاریخ <span class="bo">۱۴<i class="z"></i>۳/<i class="z"></i>۳/۳۱</span></div>
<div class="h" style="left:35px;top:373px;width:82px;">وضعیت<br>محصول-واحد</div>
<div class="h" style="left:1798px;top:398px;width:86px;">نام محصول</div>
<div class="h" style="left:1754px;top:398px;width:44px;">واحد</div>
<div class="h" style="left:1698px;top:398px;width:56px;">تعداد<br>تولید</div>
<div class="h" style="left:1637px;top:398px;width:61px;">تعداد<br>فروش</div>
<div class="h" style="left:1560px;top:398px;width:77px;">نرخ فروش<br>(ریال)</div>
<div class="h" style="left:1464px;top:398px;width:96px;">مبلغ فروش<br>(میلیون ریال)</div>
<div class="h" style="left:1417px;top:398px;width:47px;">تعداد<br>تولید</div>
<div class="h" style="left:1365px;top:398px;width:52px;">تعداد<br>فروش</div>
<div class="h" style="left:1276px;top:398px;width:89px;">مبلغ فروش<br>(میلیون ریال)</div>
<div class="h" style="left:1222px;top:398px;width:54px;">تعداد<br>تولید</div>
<div class="h" style="left:1165px;top:398px;width:57px;">تعداد<br>فروش</div>
<div class="h" style="left:1087px;top:398px;width:78px;">نرخ فروش<br>(ریال)</div>
<div class="h" style="left:991px;top:398px;width:96px;">مبلغ فروش<br>(میلیون ریال)</div>
<div class="h" style="left:936px;top:398px;width:55px;">تعداد<br>تولید</div>
<div class="h" style="left:877px;top:398px;width:59px;">تعداد<br>فروش</div>
<div class="h" style="left:799px;top:398px;width:78px;">نرخ فروش<br>(ریال)</div>
<div class="h" style="left:703px;top:398px;width:96px;">مبلغ فروش<br>(میلیون ریال)</div>
<div class="h" style="left:647px;top:398px;width:56px;">تعداد<br>تولید</div>
<div class="h" style="left:587px;top:398px;width:60px;">تعداد<br>فروش</div>
<div class="h" style="left:509px;top:398px;width:78px;">نرخ فروش<br>(ریال)</div>
<div class="h" style="left:411px;top:398px;width:98px;">مبلغ فروش<br>(میلیون ریال)</div>
<div class="h" style="left:355px;top:398px;width:56px;">تعداد<br>تولید</div>
<div class="h" style="left:294px;top:398px;width:61px;">تعداد<br>فروش</div>
<div class="h" style="left:214px;top:398px;width:80px;">نرخ فروش<br>(ریال)</div>
<div class="h" style="left:117px;top:398px;width:97px;">مبلغ فروش<br>(میلیون ریال)</div>
<div class="wm" dir="ltr">@Codal360.ir</div>

</body>
</html>
